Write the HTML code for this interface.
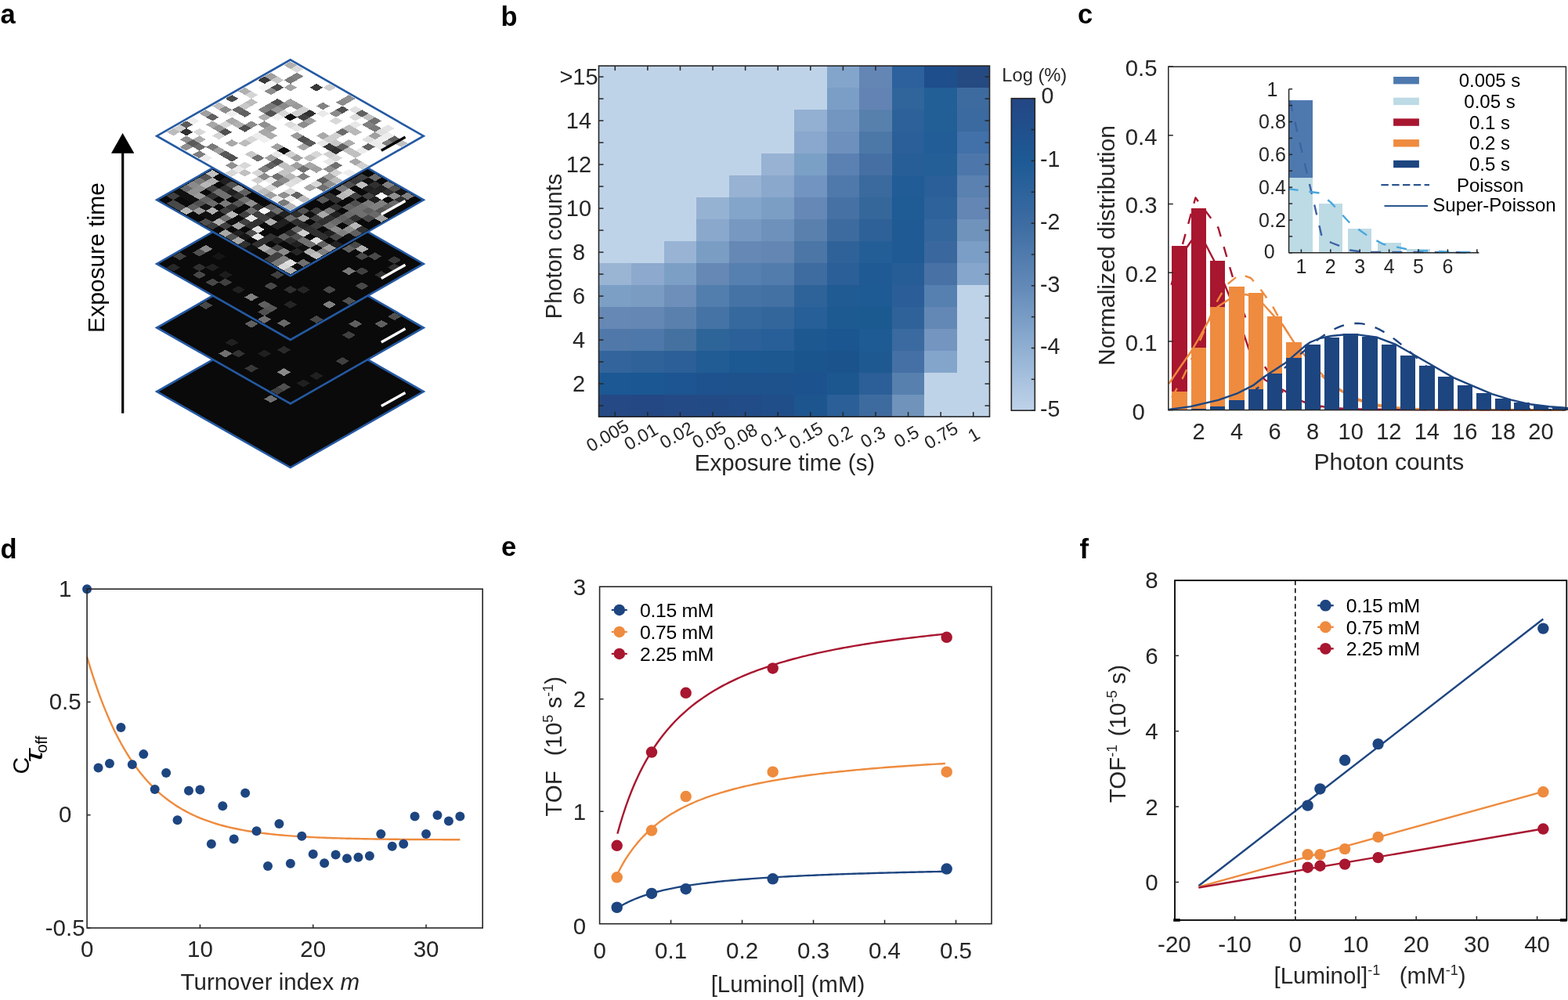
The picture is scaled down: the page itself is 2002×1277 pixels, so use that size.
<!DOCTYPE html>
<html><head><meta charset="utf-8"><title>Figure</title>
<style>
html,body{margin:0;padding:0;background:#fff;overflow:hidden;width:2002px;height:1277px;}
svg{display:block;}
text{font-family:'Liberation Sans', Arial, Helvetica, sans-serif;}
</style></head>
<body>
<svg width="2002" height="1277" viewBox="0 0 2002 1277">
<rect x="0" y="0" width="2002" height="1277" fill="#fff"/>
<text x="0.5" y="29.5" font-size="34.5" text-anchor="start" fill="#000" font-weight="bold">a</text>
<text x="639.5" y="32.5" font-size="34.5" text-anchor="start" fill="#000" font-weight="bold">b</text>
<text x="1376" y="29.5" font-size="34.5" text-anchor="start" fill="#000" font-weight="bold">c</text>
<text x="0.5" y="712.5" font-size="34.5" text-anchor="start" fill="#000" font-weight="bold">d</text>
<text x="640" y="710" font-size="34.5" text-anchor="start" fill="#000" font-weight="bold">e</text>
<text x="1378.5" y="712.5" font-size="34.5" text-anchor="start" fill="#000" font-weight="bold">f</text>
<polygon points="370.8,402.7 540.8,500.1 370.8,597.1 200.2,500.1" fill="#0a0a0a"/>
<g transform="matrix(8.3 4.74 -8.3 4.74 370.8 405)" shape-rendering="crispEdges">
<rect x="0" y="0" width="20" height="20" fill="#0a0a0a"/>
<rect x="9" y="12" width="1.04" height="1.04" fill="#707070"/>
</g>
<polygon points="370.8,402.7 540.8,500.1 370.8,597.1 200.2,500.1" fill="none" stroke="#2459a2" stroke-width="2.6" stroke-linejoin="miter"/>
<line x1="486.9" y1="518.6" x2="517.5" y2="501.4" stroke="#fff" stroke-width="3.4"/>
<polygon points="370.8,321.1 540.8,418.5 370.8,515.5 200.2,418.5" fill="#0a0a0a"/>
<g transform="matrix(8.3 4.74 -8.3 4.74 370.8 323.4)" shape-rendering="crispEdges">
<rect x="0" y="0" width="20" height="20" fill="#0a0a0a"/>
<rect x="16" y="0" width="1.04" height="1.04" fill="#505050"/>
<rect x="16" y="2" width="1.04" height="1.04" fill="#606060"/>
<rect x="14" y="4" width="1.04" height="1.04" fill="#606060"/>
<rect x="15" y="6" width="1.04" height="1.04" fill="#404040"/>
<rect x="18" y="10" width="1.04" height="1.04" fill="#404040"/>
<rect x="6" y="12" width="1.04" height="1.04" fill="#606060"/>
<rect x="0" y="13" width="1.04" height="1.04" fill="#484848"/>
<rect x="12" y="13" width="1.04" height="1.04" fill="#2a2a2a"/>
<rect x="18" y="14" width="1.04" height="1.04" fill="#202020"/>
<rect x="11" y="15" width="1.04" height="1.04" fill="#202020"/>
<rect x="7" y="16" width="1.04" height="1.04" fill="#202020"/>
<rect x="15" y="16" width="1.04" height="1.04" fill="#8a8a8a"/>
<rect x="18" y="16" width="1.04" height="1.04" fill="#202020"/>
<rect x="9" y="17" width="1.04" height="1.04" fill="#333333"/>
<rect x="8" y="18" width="1.04" height="1.04" fill="#707070"/>
<rect x="12" y="18" width="1.04" height="1.04" fill="#383838"/>
<rect x="17" y="18" width="1.04" height="1.04" fill="#505050"/>
<rect x="17" y="19" width="1.04" height="1.04" fill="#404040"/>
</g>
<polygon points="370.8,321.1 540.8,418.5 370.8,515.5 200.2,418.5" fill="none" stroke="#2459a2" stroke-width="2.6" stroke-linejoin="miter"/>
<line x1="486.9" y1="437" x2="517.5" y2="419.8" stroke="#fff" stroke-width="3.4"/>
<polygon points="370.8,239.5 540.8,336.9 370.8,433.9 200.2,336.9" fill="#0a0a0a"/>
<g transform="matrix(8.3 4.74 -8.3 4.74 370.8 241.8)" shape-rendering="crispEdges">
<rect x="0" y="0" width="20" height="20" fill="#0a0a0a"/>
<rect x="17" y="1" width="1.04" height="1.04" fill="#383838"/>
<rect x="12" y="2" width="1.04" height="1.04" fill="#484848"/>
<rect x="13" y="2" width="1.04" height="1.04" fill="#b0b0b0"/>
<rect x="15" y="2" width="1.04" height="1.04" fill="#4a4a4a"/>
<rect x="18" y="2" width="1.04" height="1.04" fill="#303030"/>
<rect x="12" y="3" width="1.04" height="1.04" fill="#606060"/>
<rect x="14" y="3" width="1.04" height="1.04" fill="#484848"/>
<rect x="18" y="4" width="1.04" height="1.04" fill="#303030"/>
<rect x="16" y="5" width="1.04" height="1.04" fill="#404040"/>
<rect x="15" y="6" width="1.04" height="1.04" fill="#7a7a7a"/>
<rect x="18" y="7" width="1.04" height="1.04" fill="#484848"/>
<rect x="16" y="10" width="1.04" height="1.04" fill="#484848"/>
<rect x="19" y="10" width="1.04" height="1.04" fill="#505050"/>
<rect x="10" y="12" width="1.04" height="1.04" fill="#404040"/>
<rect x="14" y="12" width="1.04" height="1.04" fill="#252525"/>
<rect x="18" y="12" width="1.04" height="1.04" fill="#808080"/>
<rect x="13" y="13" width="1.04" height="1.04" fill="#303030"/>
<rect x="1" y="14" width="1.04" height="1.04" fill="#8a8a8a"/>
<rect x="3" y="14" width="1.04" height="1.04" fill="#151515"/>
<rect x="11" y="14" width="1.04" height="1.04" fill="#484848"/>
<rect x="1" y="15" width="1.04" height="1.04" fill="#505050"/>
<rect x="15" y="15" width="1.04" height="1.04" fill="#252525"/>
<rect x="19" y="15" width="1.04" height="1.04" fill="#484848"/>
<rect x="4" y="16" width="1.04" height="1.04" fill="#202020"/>
<rect x="6" y="16" width="1.04" height="1.04" fill="#1c1c1c"/>
<rect x="0" y="17" width="1.04" height="1.04" fill="#404040"/>
<rect x="3" y="17" width="1.04" height="1.04" fill="#303030"/>
<rect x="7" y="17" width="1.04" height="1.04" fill="#404040"/>
<rect x="9" y="17" width="1.04" height="1.04" fill="#202020"/>
<rect x="11" y="17" width="1.04" height="1.04" fill="#808080"/>
<rect x="13" y="17" width="1.04" height="1.04" fill="#606060"/>
<rect x="14" y="17" width="1.04" height="1.04" fill="#585858"/>
<rect x="4" y="18" width="1.04" height="1.04" fill="#484848"/>
<rect x="6" y="18" width="1.04" height="1.04" fill="#484848"/>
<rect x="14" y="18" width="1.04" height="1.04" fill="#505050"/>
<rect x="17" y="18" width="1.04" height="1.04" fill="#6a6a6a"/>
<rect x="1" y="19" width="1.04" height="1.04" fill="#282828"/>
<rect x="15" y="19" width="1.04" height="1.04" fill="#707070"/>
</g>
<polygon points="370.8,239.5 540.8,336.9 370.8,433.9 200.2,336.9" fill="none" stroke="#2459a2" stroke-width="2.6" stroke-linejoin="miter"/>
<line x1="486.9" y1="355.4" x2="517.5" y2="338.2" stroke="#fff" stroke-width="3.4"/>
<polygon points="370.8,157.9 540.8,255.3 370.8,352.3 200.2,255.3" fill="#0a0a0a"/>
<g transform="matrix(8.3 4.74 -8.3 4.74 370.8 160.2)" shape-rendering="crispEdges">
<rect x="0" y="0" width="20" height="20" fill="#0a0a0a"/>
<rect x="13" y="0" width="1.04" height="1.04" fill="#6a6a6a"/>
<rect x="15" y="0" width="1.04" height="1.04" fill="#808080"/>
<rect x="16" y="0" width="1.04" height="1.04" fill="#505050"/>
<rect x="17" y="0" width="1.04" height="1.04" fill="#151515"/>
<rect x="18" y="0" width="1.04" height="1.04" fill="#808080"/>
<rect x="12" y="1" width="1.04" height="1.04" fill="#404040"/>
<rect x="13" y="1" width="1.04" height="1.04" fill="#101010"/>
<rect x="14" y="1" width="1.04" height="1.04" fill="#303030"/>
<rect x="15" y="1" width="1.04" height="1.04" fill="#202020"/>
<rect x="16" y="1" width="1.04" height="1.04" fill="#303030"/>
<rect x="17" y="1" width="1.04" height="1.04" fill="#909090"/>
<rect x="18" y="1" width="1.04" height="1.04" fill="#303030"/>
<rect x="12" y="2" width="1.04" height="1.04" fill="#3a3a3a"/>
<rect x="13" y="2" width="1.04" height="1.04" fill="#c0c0c0"/>
<rect x="14" y="2" width="1.04" height="1.04" fill="#202020"/>
<rect x="15" y="2" width="1.04" height="1.04" fill="#252525"/>
<rect x="16" y="2" width="1.04" height="1.04" fill="#f8f8f8"/>
<rect x="18" y="2" width="1.04" height="1.04" fill="#6a6a6a"/>
<rect x="12" y="3" width="1.04" height="1.04" fill="#505050"/>
<rect x="15" y="3" width="1.04" height="1.04" fill="#404040"/>
<rect x="16" y="3" width="1.04" height="1.04" fill="#202020"/>
<rect x="17" y="3" width="1.04" height="1.04" fill="#808080"/>
<rect x="18" y="3" width="1.04" height="1.04" fill="#606060"/>
<rect x="12" y="4" width="1.04" height="1.04" fill="#7a7a7a"/>
<rect x="13" y="4" width="1.04" height="1.04" fill="#c0c0c0"/>
<rect x="14" y="4" width="1.04" height="1.04" fill="#404040"/>
<rect x="16" y="4" width="1.04" height="1.04" fill="#7a7a7a"/>
<rect x="17" y="4" width="1.04" height="1.04" fill="#808080"/>
<rect x="18" y="4" width="1.04" height="1.04" fill="#555555"/>
<rect x="13" y="5" width="1.04" height="1.04" fill="#b8b8b8"/>
<rect x="15" y="5" width="1.04" height="1.04" fill="#505050"/>
<rect x="16" y="5" width="1.04" height="1.04" fill="#707070"/>
<rect x="17" y="5" width="1.04" height="1.04" fill="#606060"/>
<rect x="18" y="5" width="1.04" height="1.04" fill="#6a6a6a"/>
<rect x="19" y="5" width="1.04" height="1.04" fill="#a0a0a0"/>
<rect x="12" y="6" width="1.04" height="1.04" fill="#303030"/>
<rect x="13" y="6" width="1.04" height="1.04" fill="#303030"/>
<rect x="15" y="6" width="1.04" height="1.04" fill="#606060"/>
<rect x="16" y="6" width="1.04" height="1.04" fill="#707070"/>
<rect x="17" y="6" width="1.04" height="1.04" fill="#707070"/>
<rect x="18" y="6" width="1.04" height="1.04" fill="#484848"/>
<rect x="12" y="7" width="1.04" height="1.04" fill="#5a5a5a"/>
<rect x="14" y="7" width="1.04" height="1.04" fill="#303030"/>
<rect x="16" y="7" width="1.04" height="1.04" fill="#6a6a6a"/>
<rect x="17" y="7" width="1.04" height="1.04" fill="#303030"/>
<rect x="14" y="8" width="1.04" height="1.04" fill="#7a7a7a"/>
<rect x="15" y="8" width="1.04" height="1.04" fill="#202020"/>
<rect x="16" y="8" width="1.04" height="1.04" fill="#606060"/>
<rect x="17" y="8" width="1.04" height="1.04" fill="#505050"/>
<rect x="18" y="8" width="1.04" height="1.04" fill="#b8b8b8"/>
<rect x="19" y="8" width="1.04" height="1.04" fill="#303030"/>
<rect x="13" y="9" width="1.04" height="1.04" fill="#404040"/>
<rect x="14" y="9" width="1.04" height="1.04" fill="#a8a8a8"/>
<rect x="15" y="9" width="1.04" height="1.04" fill="#303030"/>
<rect x="16" y="9" width="1.04" height="1.04" fill="#6a6a6a"/>
<rect x="18" y="9" width="1.04" height="1.04" fill="#909090"/>
<rect x="19" y="9" width="1.04" height="1.04" fill="#606060"/>
<rect x="12" y="10" width="1.04" height="1.04" fill="#505050"/>
<rect x="13" y="10" width="1.04" height="1.04" fill="#101010"/>
<rect x="14" y="10" width="1.04" height="1.04" fill="#404040"/>
<rect x="15" y="10" width="1.04" height="1.04" fill="#303030"/>
<rect x="16" y="10" width="1.04" height="1.04" fill="#747474"/>
<rect x="17" y="10" width="1.04" height="1.04" fill="#8a8a8a"/>
<rect x="18" y="10" width="1.04" height="1.04" fill="#808080"/>
<rect x="19" y="10" width="1.04" height="1.04" fill="#101010"/>
<rect x="11" y="11" width="1.04" height="1.04" fill="#202020"/>
<rect x="12" y="11" width="1.04" height="1.04" fill="#303030"/>
<rect x="13" y="11" width="1.04" height="1.04" fill="#a0a0a0"/>
<rect x="15" y="11" width="1.04" height="1.04" fill="#3c3c3c"/>
<rect x="17" y="11" width="1.04" height="1.04" fill="#202020"/>
<rect x="18" y="11" width="1.04" height="1.04" fill="#484848"/>
<rect x="0" y="12" width="1.04" height="1.04" fill="#c0c0c0"/>
<rect x="2" y="12" width="1.04" height="1.04" fill="#202020"/>
<rect x="3" y="12" width="1.04" height="1.04" fill="#505050"/>
<rect x="4" y="12" width="1.04" height="1.04" fill="#b0b0b0"/>
<rect x="5" y="12" width="1.04" height="1.04" fill="#606060"/>
<rect x="9" y="12" width="1.04" height="1.04" fill="#606060"/>
<rect x="10" y="12" width="1.04" height="1.04" fill="#707070"/>
<rect x="11" y="12" width="1.04" height="1.04" fill="#202020"/>
<rect x="12" y="12" width="1.04" height="1.04" fill="#6a6a6a"/>
<rect x="13" y="12" width="1.04" height="1.04" fill="#303030"/>
<rect x="14" y="12" width="1.04" height="1.04" fill="#282828"/>
<rect x="15" y="12" width="1.04" height="1.04" fill="#303030"/>
<rect x="16" y="12" width="1.04" height="1.04" fill="#303030"/>
<rect x="17" y="12" width="1.04" height="1.04" fill="#303030"/>
<rect x="19" y="12" width="1.04" height="1.04" fill="#202020"/>
<rect x="0" y="13" width="1.04" height="1.04" fill="#555555"/>
<rect x="1" y="13" width="1.04" height="1.04" fill="#b0b0b0"/>
<rect x="3" y="13" width="1.04" height="1.04" fill="#303030"/>
<rect x="4" y="13" width="1.04" height="1.04" fill="#202020"/>
<rect x="5" y="13" width="1.04" height="1.04" fill="#303030"/>
<rect x="6" y="13" width="1.04" height="1.04" fill="#707070"/>
<rect x="7" y="13" width="1.04" height="1.04" fill="#909090"/>
<rect x="8" y="13" width="1.04" height="1.04" fill="#303030"/>
<rect x="9" y="13" width="1.04" height="1.04" fill="#f8f8f8"/>
<rect x="10" y="13" width="1.04" height="1.04" fill="#303030"/>
<rect x="11" y="13" width="1.04" height="1.04" fill="#101010"/>
<rect x="12" y="13" width="1.04" height="1.04" fill="#202020"/>
<rect x="14" y="13" width="1.04" height="1.04" fill="#6a6a6a"/>
<rect x="15" y="13" width="1.04" height="1.04" fill="#d0d0d0"/>
<rect x="17" y="13" width="1.04" height="1.04" fill="#e0e0e0"/>
<rect x="18" y="13" width="1.04" height="1.04" fill="#606060"/>
<rect x="19" y="13" width="1.04" height="1.04" fill="#a0a0a0"/>
<rect x="0" y="14" width="1.04" height="1.04" fill="#7a7a7a"/>
<rect x="1" y="14" width="1.04" height="1.04" fill="#b8b8b8"/>
<rect x="2" y="14" width="1.04" height="1.04" fill="#404040"/>
<rect x="3" y="14" width="1.04" height="1.04" fill="#707070"/>
<rect x="4" y="14" width="1.04" height="1.04" fill="#707070"/>
<rect x="6" y="14" width="1.04" height="1.04" fill="#555555"/>
<rect x="8" y="14" width="1.04" height="1.04" fill="#707070"/>
<rect x="9" y="14" width="1.04" height="1.04" fill="#404040"/>
<rect x="10" y="14" width="1.04" height="1.04" fill="#404040"/>
<rect x="11" y="14" width="1.04" height="1.04" fill="#b0b0b0"/>
<rect x="12" y="14" width="1.04" height="1.04" fill="#202020"/>
<rect x="14" y="14" width="1.04" height="1.04" fill="#303030"/>
<rect x="15" y="14" width="1.04" height="1.04" fill="#505050"/>
<rect x="16" y="14" width="1.04" height="1.04" fill="#707070"/>
<rect x="17" y="14" width="1.04" height="1.04" fill="#707070"/>
<rect x="19" y="14" width="1.04" height="1.04" fill="#808080"/>
<rect x="0" y="15" width="1.04" height="1.04" fill="#8a8a8a"/>
<rect x="1" y="15" width="1.04" height="1.04" fill="#909090"/>
<rect x="3" y="15" width="1.04" height="1.04" fill="#303030"/>
<rect x="5" y="15" width="1.04" height="1.04" fill="#7a7a7a"/>
<rect x="6" y="15" width="1.04" height="1.04" fill="#303030"/>
<rect x="8" y="15" width="1.04" height="1.04" fill="#404040"/>
<rect x="9" y="15" width="1.04" height="1.04" fill="#e8e8e8"/>
<rect x="10" y="15" width="1.04" height="1.04" fill="#303030"/>
<rect x="14" y="15" width="1.04" height="1.04" fill="#606060"/>
<rect x="15" y="15" width="1.04" height="1.04" fill="#303030"/>
<rect x="16" y="15" width="1.04" height="1.04" fill="#202020"/>
<rect x="17" y="15" width="1.04" height="1.04" fill="#101010"/>
<rect x="18" y="15" width="1.04" height="1.04" fill="#b0b0b0"/>
<rect x="19" y="15" width="1.04" height="1.04" fill="#c0c0c0"/>
<rect x="0" y="16" width="1.04" height="1.04" fill="#6a6a6a"/>
<rect x="1" y="16" width="1.04" height="1.04" fill="#909090"/>
<rect x="2" y="16" width="1.04" height="1.04" fill="#9a9a9a"/>
<rect x="3" y="16" width="1.04" height="1.04" fill="#606060"/>
<rect x="4" y="16" width="1.04" height="1.04" fill="#6a6a6a"/>
<rect x="6" y="16" width="1.04" height="1.04" fill="#404040"/>
<rect x="7" y="16" width="1.04" height="1.04" fill="#b8b8b8"/>
<rect x="9" y="16" width="1.04" height="1.04" fill="#404040"/>
<rect x="10" y="16" width="1.04" height="1.04" fill="#303030"/>
<rect x="11" y="16" width="1.04" height="1.04" fill="#e0e0e0"/>
<rect x="13" y="16" width="1.04" height="1.04" fill="#303030"/>
<rect x="14" y="16" width="1.04" height="1.04" fill="#202020"/>
<rect x="17" y="16" width="1.04" height="1.04" fill="#252525"/>
<rect x="0" y="17" width="1.04" height="1.04" fill="#101010"/>
<rect x="1" y="17" width="1.04" height="1.04" fill="#101010"/>
<rect x="2" y="17" width="1.04" height="1.04" fill="#101010"/>
<rect x="3" y="17" width="1.04" height="1.04" fill="#505050"/>
<rect x="4" y="17" width="1.04" height="1.04" fill="#151515"/>
<rect x="5" y="17" width="1.04" height="1.04" fill="#b0b0b0"/>
<rect x="6" y="17" width="1.04" height="1.04" fill="#101010"/>
<rect x="7" y="17" width="1.04" height="1.04" fill="#707070"/>
<rect x="8" y="17" width="1.04" height="1.04" fill="#101010"/>
<rect x="9" y="17" width="1.04" height="1.04" fill="#a5a5a5"/>
<rect x="11" y="17" width="1.04" height="1.04" fill="#505050"/>
<rect x="12" y="17" width="1.04" height="1.04" fill="#e8e8e8"/>
<rect x="13" y="17" width="1.04" height="1.04" fill="#303030"/>
<rect x="15" y="17" width="1.04" height="1.04" fill="#404040"/>
<rect x="16" y="17" width="1.04" height="1.04" fill="#8a8a8a"/>
<rect x="19" y="17" width="1.04" height="1.04" fill="#707070"/>
<rect x="0" y="18" width="1.04" height="1.04" fill="#404040"/>
<rect x="3" y="18" width="1.04" height="1.04" fill="#606060"/>
<rect x="4" y="18" width="1.04" height="1.04" fill="#9a9a9a"/>
<rect x="5" y="18" width="1.04" height="1.04" fill="#101010"/>
<rect x="6" y="18" width="1.04" height="1.04" fill="#101010"/>
<rect x="7" y="18" width="1.04" height="1.04" fill="#b0b0b0"/>
<rect x="8" y="18" width="1.04" height="1.04" fill="#404040"/>
<rect x="10" y="18" width="1.04" height="1.04" fill="#202020"/>
<rect x="11" y="18" width="1.04" height="1.04" fill="#151515"/>
<rect x="13" y="18" width="1.04" height="1.04" fill="#303030"/>
<rect x="14" y="18" width="1.04" height="1.04" fill="#b0b0b0"/>
<rect x="15" y="18" width="1.04" height="1.04" fill="#8a8a8a"/>
<rect x="16" y="18" width="1.04" height="1.04" fill="#404040"/>
<rect x="17" y="18" width="1.04" height="1.04" fill="#808080"/>
<rect x="18" y="18" width="1.04" height="1.04" fill="#e0e0e0"/>
<rect x="1" y="19" width="1.04" height="1.04" fill="#484848"/>
<rect x="2" y="19" width="1.04" height="1.04" fill="#4a4a4a"/>
<rect x="3" y="19" width="1.04" height="1.04" fill="#b8b8b8"/>
<rect x="6" y="19" width="1.04" height="1.04" fill="#505050"/>
<rect x="7" y="19" width="1.04" height="1.04" fill="#3c3c3c"/>
<rect x="9" y="19" width="1.04" height="1.04" fill="#a8a8a8"/>
<rect x="10" y="19" width="1.04" height="1.04" fill="#505050"/>
<rect x="11" y="19" width="1.04" height="1.04" fill="#a8a8a8"/>
<rect x="12" y="19" width="1.04" height="1.04" fill="#303030"/>
<rect x="13" y="19" width="1.04" height="1.04" fill="#101010"/>
<rect x="16" y="19" width="1.04" height="1.04" fill="#404040"/>
<rect x="17" y="19" width="1.04" height="1.04" fill="#7a7a7a"/>
<rect x="18" y="19" width="1.04" height="1.04" fill="#d8d8d8"/>
<rect x="19" y="19" width="1.04" height="1.04" fill="#b0b0b0"/>
</g>
<polygon points="370.8,157.9 540.8,255.3 370.8,352.3 200.2,255.3" fill="none" stroke="#2459a2" stroke-width="2.6" stroke-linejoin="miter"/>
<line x1="486.9" y1="273.8" x2="517.5" y2="256.6" stroke="#fff" stroke-width="3.4"/>
<polygon points="370.8,76.3 540.8,173.7 370.8,270.7 200.2,173.7" fill="#fdfdfd"/>
<g transform="matrix(8.3 4.74 -8.3 4.74 370.8 78.6)" shape-rendering="crispEdges">
<rect x="0" y="0" width="20" height="20" fill="#fdfdfd"/>
<rect x="0" y="0" width="1.04" height="1.04" fill="#b0b0b0"/>
<rect x="1" y="0" width="1.04" height="1.04" fill="#dcdcdc"/>
<rect x="2" y="0" width="1.04" height="1.04" fill="#ffffff"/>
<rect x="3" y="0" width="1.04" height="1.04" fill="#ffffff"/>
<rect x="4" y="0" width="1.04" height="1.04" fill="#ffffff"/>
<rect x="5" y="0" width="1.04" height="1.04" fill="#ffffff"/>
<rect x="6" y="0" width="1.04" height="1.04" fill="#d0d0d0"/>
<rect x="7" y="0" width="1.04" height="1.04" fill="#ffffff"/>
<rect x="8" y="0" width="1.04" height="1.04" fill="#ffffff"/>
<rect x="9" y="0" width="1.04" height="1.04" fill="#909090"/>
<rect x="10" y="0" width="1.04" height="1.04" fill="#ffffff"/>
<rect x="11" y="0" width="1.04" height="1.04" fill="#ffffff"/>
<rect x="12" y="0" width="1.04" height="1.04" fill="#ffffff"/>
<rect x="13" y="0" width="1.04" height="1.04" fill="#ffffff"/>
<rect x="14" y="0" width="1.04" height="1.04" fill="#ffffff"/>
<rect x="15" y="0" width="1.04" height="1.04" fill="#ffffff"/>
<rect x="16" y="0" width="1.04" height="1.04" fill="#ffffff"/>
<rect x="17" y="0" width="1.04" height="1.04" fill="#ffffff"/>
<rect x="18" y="0" width="1.04" height="1.04" fill="#ffffff"/>
<rect x="19" y="0" width="1.04" height="1.04" fill="#ffffff"/>
<rect x="0" y="1" width="1.04" height="1.04" fill="#ffffff"/>
<rect x="1" y="1" width="1.04" height="1.04" fill="#ffffff"/>
<rect x="2" y="1" width="1.04" height="1.04" fill="#808080"/>
<rect x="3" y="1" width="1.04" height="1.04" fill="#ffffff"/>
<rect x="4" y="1" width="1.04" height="1.04" fill="#ffffff"/>
<rect x="5" y="1" width="1.04" height="1.04" fill="#383838"/>
<rect x="6" y="1" width="1.04" height="1.04" fill="#ffffff"/>
<rect x="7" y="1" width="1.04" height="1.04" fill="#ffffff"/>
<rect x="8" y="1" width="1.04" height="1.04" fill="#ffffff"/>
<rect x="9" y="1" width="1.04" height="1.04" fill="#8c8c8c"/>
<rect x="10" y="1" width="1.04" height="1.04" fill="#ffffff"/>
<rect x="11" y="1" width="1.04" height="1.04" fill="#e0e0e0"/>
<rect x="12" y="1" width="1.04" height="1.04" fill="#606060"/>
<rect x="13" y="1" width="1.04" height="1.04" fill="#c0c0c0"/>
<rect x="14" y="1" width="1.04" height="1.04" fill="#707070"/>
<rect x="15" y="1" width="1.04" height="1.04" fill="#ffffff"/>
<rect x="16" y="1" width="1.04" height="1.04" fill="#e4e4e4"/>
<rect x="17" y="1" width="1.04" height="1.04" fill="#ffffff"/>
<rect x="18" y="1" width="1.04" height="1.04" fill="#ffffff"/>
<rect x="19" y="1" width="1.04" height="1.04" fill="#ffffff"/>
<rect x="0" y="2" width="1.04" height="1.04" fill="#ffffff"/>
<rect x="1" y="2" width="1.04" height="1.04" fill="#ffffff"/>
<rect x="2" y="2" width="1.04" height="1.04" fill="#7a7a7a"/>
<rect x="3" y="2" width="1.04" height="1.04" fill="#ffffff"/>
<rect x="4" y="2" width="1.04" height="1.04" fill="#ffffff"/>
<rect x="5" y="2" width="1.04" height="1.04" fill="#ffffff"/>
<rect x="6" y="2" width="1.04" height="1.04" fill="#ffffff"/>
<rect x="7" y="2" width="1.04" height="1.04" fill="#ffffff"/>
<rect x="8" y="2" width="1.04" height="1.04" fill="#ffffff"/>
<rect x="9" y="2" width="1.04" height="1.04" fill="#ffffff"/>
<rect x="10" y="2" width="1.04" height="1.04" fill="#505050"/>
<rect x="11" y="2" width="1.04" height="1.04" fill="#ffffff"/>
<rect x="12" y="2" width="1.04" height="1.04" fill="#dcdcdc"/>
<rect x="13" y="2" width="1.04" height="1.04" fill="#ffffff"/>
<rect x="14" y="2" width="1.04" height="1.04" fill="#808080"/>
<rect x="15" y="2" width="1.04" height="1.04" fill="#7a7a7a"/>
<rect x="16" y="2" width="1.04" height="1.04" fill="#e0e0e0"/>
<rect x="17" y="2" width="1.04" height="1.04" fill="#eeeeee"/>
<rect x="18" y="2" width="1.04" height="1.04" fill="#606060"/>
<rect x="19" y="2" width="1.04" height="1.04" fill="#c0c0c0"/>
<rect x="0" y="3" width="1.04" height="1.04" fill="#a0a0a0"/>
<rect x="1" y="3" width="1.04" height="1.04" fill="#c8c8c8"/>
<rect x="2" y="3" width="1.04" height="1.04" fill="#ffffff"/>
<rect x="3" y="3" width="1.04" height="1.04" fill="#a4a4a4"/>
<rect x="4" y="3" width="1.04" height="1.04" fill="#ffffff"/>
<rect x="5" y="3" width="1.04" height="1.04" fill="#ffffff"/>
<rect x="6" y="3" width="1.04" height="1.04" fill="#ffffff"/>
<rect x="7" y="3" width="1.04" height="1.04" fill="#ffffff"/>
<rect x="8" y="3" width="1.04" height="1.04" fill="#828282"/>
<rect x="9" y="3" width="1.04" height="1.04" fill="#ffffff"/>
<rect x="10" y="3" width="1.04" height="1.04" fill="#8c8c8c"/>
<rect x="11" y="3" width="1.04" height="1.04" fill="#ffffff"/>
<rect x="12" y="3" width="1.04" height="1.04" fill="#ffffff"/>
<rect x="13" y="3" width="1.04" height="1.04" fill="#e8e8e8"/>
<rect x="14" y="3" width="1.04" height="1.04" fill="#ffffff"/>
<rect x="15" y="3" width="1.04" height="1.04" fill="#ffffff"/>
<rect x="16" y="3" width="1.04" height="1.04" fill="#a0a0a0"/>
<rect x="17" y="3" width="1.04" height="1.04" fill="#f0f0f0"/>
<rect x="18" y="3" width="1.04" height="1.04" fill="#808080"/>
<rect x="19" y="3" width="1.04" height="1.04" fill="#ffffff"/>
<rect x="0" y="4" width="1.04" height="1.04" fill="#383838"/>
<rect x="1" y="4" width="1.04" height="1.04" fill="#f5f5f5"/>
<rect x="2" y="4" width="1.04" height="1.04" fill="#4a4a4a"/>
<rect x="3" y="4" width="1.04" height="1.04" fill="#ffffff"/>
<rect x="4" y="4" width="1.04" height="1.04" fill="#ffffff"/>
<rect x="5" y="4" width="1.04" height="1.04" fill="#ffffff"/>
<rect x="6" y="4" width="1.04" height="1.04" fill="#ffffff"/>
<rect x="7" y="4" width="1.04" height="1.04" fill="#ffffff"/>
<rect x="8" y="4" width="1.04" height="1.04" fill="#ffffff"/>
<rect x="9" y="4" width="1.04" height="1.04" fill="#eaeaea"/>
<rect x="10" y="4" width="1.04" height="1.04" fill="#ffffff"/>
<rect x="11" y="4" width="1.04" height="1.04" fill="#d8d8d8"/>
<rect x="12" y="4" width="1.04" height="1.04" fill="#ffffff"/>
<rect x="13" y="4" width="1.04" height="1.04" fill="#bcbcbc"/>
<rect x="14" y="4" width="1.04" height="1.04" fill="#b8b8b8"/>
<rect x="15" y="4" width="1.04" height="1.04" fill="#ffffff"/>
<rect x="16" y="4" width="1.04" height="1.04" fill="#e0e0e0"/>
<rect x="17" y="4" width="1.04" height="1.04" fill="#ececec"/>
<rect x="18" y="4" width="1.04" height="1.04" fill="#ececec"/>
<rect x="19" y="4" width="1.04" height="1.04" fill="#ffffff"/>
<rect x="0" y="5" width="1.04" height="1.04" fill="#ffffff"/>
<rect x="1" y="5" width="1.04" height="1.04" fill="#f4f4f4"/>
<rect x="2" y="5" width="1.04" height="1.04" fill="#8c8c8c"/>
<rect x="3" y="5" width="1.04" height="1.04" fill="#ffffff"/>
<rect x="4" y="5" width="1.04" height="1.04" fill="#ffffff"/>
<rect x="5" y="5" width="1.04" height="1.04" fill="#a0a0a0"/>
<rect x="6" y="5" width="1.04" height="1.04" fill="#9a9a9a"/>
<rect x="7" y="5" width="1.04" height="1.04" fill="#d0d0d0"/>
<rect x="8" y="5" width="1.04" height="1.04" fill="#303030"/>
<rect x="9" y="5" width="1.04" height="1.04" fill="#ffffff"/>
<rect x="10" y="5" width="1.04" height="1.04" fill="#ffffff"/>
<rect x="11" y="5" width="1.04" height="1.04" fill="#ffffff"/>
<rect x="12" y="5" width="1.04" height="1.04" fill="#ffffff"/>
<rect x="13" y="5" width="1.04" height="1.04" fill="#6a6a6a"/>
<rect x="14" y="5" width="1.04" height="1.04" fill="#ffffff"/>
<rect x="15" y="5" width="1.04" height="1.04" fill="#ffffff"/>
<rect x="16" y="5" width="1.04" height="1.04" fill="#ffffff"/>
<rect x="17" y="5" width="1.04" height="1.04" fill="#606060"/>
<rect x="18" y="5" width="1.04" height="1.04" fill="#ffffff"/>
<rect x="19" y="5" width="1.04" height="1.04" fill="#ffffff"/>
<rect x="0" y="6" width="1.04" height="1.04" fill="#ffffff"/>
<rect x="1" y="6" width="1.04" height="1.04" fill="#ffffff"/>
<rect x="2" y="6" width="1.04" height="1.04" fill="#ffffff"/>
<rect x="3" y="6" width="1.04" height="1.04" fill="#ffffff"/>
<rect x="4" y="6" width="1.04" height="1.04" fill="#4e4e4e"/>
<rect x="5" y="6" width="1.04" height="1.04" fill="#8a8a8a"/>
<rect x="6" y="6" width="1.04" height="1.04" fill="#ffffff"/>
<rect x="7" y="6" width="1.04" height="1.04" fill="#d0d0d0"/>
<rect x="8" y="6" width="1.04" height="1.04" fill="#404040"/>
<rect x="9" y="6" width="1.04" height="1.04" fill="#a0a0a0"/>
<rect x="10" y="6" width="1.04" height="1.04" fill="#ffffff"/>
<rect x="11" y="6" width="1.04" height="1.04" fill="#ffffff"/>
<rect x="12" y="6" width="1.04" height="1.04" fill="#ffffff"/>
<rect x="13" y="6" width="1.04" height="1.04" fill="#d0d0d0"/>
<rect x="14" y="6" width="1.04" height="1.04" fill="#ffffff"/>
<rect x="15" y="6" width="1.04" height="1.04" fill="#acacac"/>
<rect x="16" y="6" width="1.04" height="1.04" fill="#ffffff"/>
<rect x="17" y="6" width="1.04" height="1.04" fill="#ececec"/>
<rect x="18" y="6" width="1.04" height="1.04" fill="#ffffff"/>
<rect x="19" y="6" width="1.04" height="1.04" fill="#ffffff"/>
<rect x="0" y="7" width="1.04" height="1.04" fill="#b0b0b0"/>
<rect x="1" y="7" width="1.04" height="1.04" fill="#d4d4d4"/>
<rect x="2" y="7" width="1.04" height="1.04" fill="#ffffff"/>
<rect x="3" y="7" width="1.04" height="1.04" fill="#ffffff"/>
<rect x="4" y="7" width="1.04" height="1.04" fill="#7a7a7a"/>
<rect x="5" y="7" width="1.04" height="1.04" fill="#9a9a9a"/>
<rect x="6" y="7" width="1.04" height="1.04" fill="#d8d8d8"/>
<rect x="7" y="7" width="1.04" height="1.04" fill="#101010"/>
<rect x="8" y="7" width="1.04" height="1.04" fill="#ffffff"/>
<rect x="9" y="7" width="1.04" height="1.04" fill="#8c8c8c"/>
<rect x="10" y="7" width="1.04" height="1.04" fill="#ffffff"/>
<rect x="11" y="7" width="1.04" height="1.04" fill="#ffffff"/>
<rect x="12" y="7" width="1.04" height="1.04" fill="#a8a8a8"/>
<rect x="13" y="7" width="1.04" height="1.04" fill="#d0d0d0"/>
<rect x="14" y="7" width="1.04" height="1.04" fill="#c8c8c8"/>
<rect x="15" y="7" width="1.04" height="1.04" fill="#606060"/>
<rect x="16" y="7" width="1.04" height="1.04" fill="#c0c0c0"/>
<rect x="17" y="7" width="1.04" height="1.04" fill="#c0c0c0"/>
<rect x="18" y="7" width="1.04" height="1.04" fill="#ffffff"/>
<rect x="19" y="7" width="1.04" height="1.04" fill="#ffffff"/>
<rect x="0" y="8" width="1.04" height="1.04" fill="#ffffff"/>
<rect x="1" y="8" width="1.04" height="1.04" fill="#ffffff"/>
<rect x="2" y="8" width="1.04" height="1.04" fill="#bcbcbc"/>
<rect x="3" y="8" width="1.04" height="1.04" fill="#ffffff"/>
<rect x="4" y="8" width="1.04" height="1.04" fill="#808080"/>
<rect x="5" y="8" width="1.04" height="1.04" fill="#505050"/>
<rect x="6" y="8" width="1.04" height="1.04" fill="#f0f0f0"/>
<rect x="7" y="8" width="1.04" height="1.04" fill="#ffffff"/>
<rect x="8" y="8" width="1.04" height="1.04" fill="#dcdcdc"/>
<rect x="9" y="8" width="1.04" height="1.04" fill="#e8e8e8"/>
<rect x="10" y="8" width="1.04" height="1.04" fill="#ffffff"/>
<rect x="11" y="8" width="1.04" height="1.04" fill="#ffffff"/>
<rect x="12" y="8" width="1.04" height="1.04" fill="#ffffff"/>
<rect x="13" y="8" width="1.04" height="1.04" fill="#e8e8e8"/>
<rect x="14" y="8" width="1.04" height="1.04" fill="#383838"/>
<rect x="15" y="8" width="1.04" height="1.04" fill="#303030"/>
<rect x="16" y="8" width="1.04" height="1.04" fill="#ffffff"/>
<rect x="17" y="8" width="1.04" height="1.04" fill="#ffffff"/>
<rect x="18" y="8" width="1.04" height="1.04" fill="#a8a8a8"/>
<rect x="19" y="8" width="1.04" height="1.04" fill="#d0d0d0"/>
<rect x="0" y="9" width="1.04" height="1.04" fill="#4a4a4a"/>
<rect x="1" y="9" width="1.04" height="1.04" fill="#ffffff"/>
<rect x="2" y="9" width="1.04" height="1.04" fill="#c8c8c8"/>
<rect x="3" y="9" width="1.04" height="1.04" fill="#ffffff"/>
<rect x="4" y="9" width="1.04" height="1.04" fill="#ffffff"/>
<rect x="5" y="9" width="1.04" height="1.04" fill="#b0b0b0"/>
<rect x="6" y="9" width="1.04" height="1.04" fill="#ffffff"/>
<rect x="7" y="9" width="1.04" height="1.04" fill="#ffffff"/>
<rect x="8" y="9" width="1.04" height="1.04" fill="#ffffff"/>
<rect x="9" y="9" width="1.04" height="1.04" fill="#ffffff"/>
<rect x="10" y="9" width="1.04" height="1.04" fill="#9a9a9a"/>
<rect x="11" y="9" width="1.04" height="1.04" fill="#505050"/>
<rect x="12" y="9" width="1.04" height="1.04" fill="#5a5a5a"/>
<rect x="13" y="9" width="1.04" height="1.04" fill="#ffffff"/>
<rect x="14" y="9" width="1.04" height="1.04" fill="#ffffff"/>
<rect x="15" y="9" width="1.04" height="1.04" fill="#d0d0d0"/>
<rect x="16" y="9" width="1.04" height="1.04" fill="#d8d8d8"/>
<rect x="17" y="9" width="1.04" height="1.04" fill="#ffffff"/>
<rect x="18" y="9" width="1.04" height="1.04" fill="#ffffff"/>
<rect x="19" y="9" width="1.04" height="1.04" fill="#ffffff"/>
<rect x="0" y="10" width="1.04" height="1.04" fill="#ffffff"/>
<rect x="1" y="10" width="1.04" height="1.04" fill="#ffffff"/>
<rect x="2" y="10" width="1.04" height="1.04" fill="#686868"/>
<rect x="3" y="10" width="1.04" height="1.04" fill="#606060"/>
<rect x="4" y="10" width="1.04" height="1.04" fill="#ffffff"/>
<rect x="5" y="10" width="1.04" height="1.04" fill="#ffffff"/>
<rect x="6" y="10" width="1.04" height="1.04" fill="#909090"/>
<rect x="7" y="10" width="1.04" height="1.04" fill="#a0a0a0"/>
<rect x="8" y="10" width="1.04" height="1.04" fill="#ffffff"/>
<rect x="9" y="10" width="1.04" height="1.04" fill="#ffffff"/>
<rect x="10" y="10" width="1.04" height="1.04" fill="#ffffff"/>
<rect x="11" y="10" width="1.04" height="1.04" fill="#ffffff"/>
<rect x="12" y="10" width="1.04" height="1.04" fill="#a8a8a8"/>
<rect x="13" y="10" width="1.04" height="1.04" fill="#ffffff"/>
<rect x="14" y="10" width="1.04" height="1.04" fill="#d8d8d8"/>
<rect x="15" y="10" width="1.04" height="1.04" fill="#ffffff"/>
<rect x="16" y="10" width="1.04" height="1.04" fill="#e8e8e8"/>
<rect x="17" y="10" width="1.04" height="1.04" fill="#707070"/>
<rect x="18" y="10" width="1.04" height="1.04" fill="#ffffff"/>
<rect x="19" y="10" width="1.04" height="1.04" fill="#eeeeee"/>
<rect x="0" y="11" width="1.04" height="1.04" fill="#c0c0c0"/>
<rect x="1" y="11" width="1.04" height="1.04" fill="#8c8c8c"/>
<rect x="2" y="11" width="1.04" height="1.04" fill="#f0f0f0"/>
<rect x="3" y="11" width="1.04" height="1.04" fill="#ffffff"/>
<rect x="4" y="11" width="1.04" height="1.04" fill="#ffffff"/>
<rect x="5" y="11" width="1.04" height="1.04" fill="#8a8a8a"/>
<rect x="6" y="11" width="1.04" height="1.04" fill="#ffffff"/>
<rect x="7" y="11" width="1.04" height="1.04" fill="#a8a8a8"/>
<rect x="8" y="11" width="1.04" height="1.04" fill="#acacac"/>
<rect x="9" y="11" width="1.04" height="1.04" fill="#ffffff"/>
<rect x="10" y="11" width="1.04" height="1.04" fill="#ffffff"/>
<rect x="11" y="11" width="1.04" height="1.04" fill="#ffffff"/>
<rect x="12" y="11" width="1.04" height="1.04" fill="#ffffff"/>
<rect x="13" y="11" width="1.04" height="1.04" fill="#ffffff"/>
<rect x="14" y="11" width="1.04" height="1.04" fill="#c0c0c0"/>
<rect x="15" y="11" width="1.04" height="1.04" fill="#ffffff"/>
<rect x="16" y="11" width="1.04" height="1.04" fill="#ffffff"/>
<rect x="17" y="11" width="1.04" height="1.04" fill="#909090"/>
<rect x="18" y="11" width="1.04" height="1.04" fill="#d4d4d4"/>
<rect x="19" y="11" width="1.04" height="1.04" fill="#ffffff"/>
<rect x="0" y="12" width="1.04" height="1.04" fill="#ffffff"/>
<rect x="1" y="12" width="1.04" height="1.04" fill="#ffffff"/>
<rect x="2" y="12" width="1.04" height="1.04" fill="#ffffff"/>
<rect x="3" y="12" width="1.04" height="1.04" fill="#a8a8a8"/>
<rect x="4" y="12" width="1.04" height="1.04" fill="#b0b0b0"/>
<rect x="5" y="12" width="1.04" height="1.04" fill="#505050"/>
<rect x="6" y="12" width="1.04" height="1.04" fill="#ffffff"/>
<rect x="7" y="12" width="1.04" height="1.04" fill="#ececec"/>
<rect x="8" y="12" width="1.04" height="1.04" fill="#f0f0f0"/>
<rect x="9" y="12" width="1.04" height="1.04" fill="#ffffff"/>
<rect x="10" y="12" width="1.04" height="1.04" fill="#a0a0a0"/>
<rect x="11" y="12" width="1.04" height="1.04" fill="#101010"/>
<rect x="12" y="12" width="1.04" height="1.04" fill="#d0d0d0"/>
<rect x="13" y="12" width="1.04" height="1.04" fill="#a0a0a0"/>
<rect x="14" y="12" width="1.04" height="1.04" fill="#ffffff"/>
<rect x="15" y="12" width="1.04" height="1.04" fill="#a8a8a8"/>
<rect x="16" y="12" width="1.04" height="1.04" fill="#a0a0a0"/>
<rect x="17" y="12" width="1.04" height="1.04" fill="#ffffff"/>
<rect x="18" y="12" width="1.04" height="1.04" fill="#a0a0a0"/>
<rect x="19" y="12" width="1.04" height="1.04" fill="#bcbcbc"/>
<rect x="0" y="13" width="1.04" height="1.04" fill="#a0a0a0"/>
<rect x="1" y="13" width="1.04" height="1.04" fill="#606060"/>
<rect x="2" y="13" width="1.04" height="1.04" fill="#ffffff"/>
<rect x="3" y="13" width="1.04" height="1.04" fill="#d8d8d8"/>
<rect x="4" y="13" width="1.04" height="1.04" fill="#ffffff"/>
<rect x="5" y="13" width="1.04" height="1.04" fill="#ffffff"/>
<rect x="6" y="13" width="1.04" height="1.04" fill="#ffffff"/>
<rect x="7" y="13" width="1.04" height="1.04" fill="#d8d8d8"/>
<rect x="8" y="13" width="1.04" height="1.04" fill="#ffffff"/>
<rect x="9" y="13" width="1.04" height="1.04" fill="#ffffff"/>
<rect x="10" y="13" width="1.04" height="1.04" fill="#ffffff"/>
<rect x="11" y="13" width="1.04" height="1.04" fill="#e8e8e8"/>
<rect x="12" y="13" width="1.04" height="1.04" fill="#ffffff"/>
<rect x="13" y="13" width="1.04" height="1.04" fill="#ffffff"/>
<rect x="14" y="13" width="1.04" height="1.04" fill="#a0a0a0"/>
<rect x="15" y="13" width="1.04" height="1.04" fill="#707070"/>
<rect x="16" y="13" width="1.04" height="1.04" fill="#ffffff"/>
<rect x="17" y="13" width="1.04" height="1.04" fill="#ffffff"/>
<rect x="18" y="13" width="1.04" height="1.04" fill="#606060"/>
<rect x="19" y="13" width="1.04" height="1.04" fill="#909090"/>
<rect x="0" y="14" width="1.04" height="1.04" fill="#ffffff"/>
<rect x="1" y="14" width="1.04" height="1.04" fill="#ffffff"/>
<rect x="2" y="14" width="1.04" height="1.04" fill="#a8a8a8"/>
<rect x="3" y="14" width="1.04" height="1.04" fill="#909090"/>
<rect x="4" y="14" width="1.04" height="1.04" fill="#505050"/>
<rect x="5" y="14" width="1.04" height="1.04" fill="#ffffff"/>
<rect x="6" y="14" width="1.04" height="1.04" fill="#ffffff"/>
<rect x="7" y="14" width="1.04" height="1.04" fill="#bcbcbc"/>
<rect x="8" y="14" width="1.04" height="1.04" fill="#ffffff"/>
<rect x="9" y="14" width="1.04" height="1.04" fill="#ffffff"/>
<rect x="10" y="14" width="1.04" height="1.04" fill="#ffffff"/>
<rect x="11" y="14" width="1.04" height="1.04" fill="#a0a0a0"/>
<rect x="12" y="14" width="1.04" height="1.04" fill="#505050"/>
<rect x="13" y="14" width="1.04" height="1.04" fill="#c0c0c0"/>
<rect x="14" y="14" width="1.04" height="1.04" fill="#c0c0c0"/>
<rect x="15" y="14" width="1.04" height="1.04" fill="#ffffff"/>
<rect x="16" y="14" width="1.04" height="1.04" fill="#808080"/>
<rect x="17" y="14" width="1.04" height="1.04" fill="#ffffff"/>
<rect x="18" y="14" width="1.04" height="1.04" fill="#d8d8d8"/>
<rect x="19" y="14" width="1.04" height="1.04" fill="#707070"/>
<rect x="0" y="15" width="1.04" height="1.04" fill="#eeeeee"/>
<rect x="1" y="15" width="1.04" height="1.04" fill="#ffffff"/>
<rect x="2" y="15" width="1.04" height="1.04" fill="#ffffff"/>
<rect x="3" y="15" width="1.04" height="1.04" fill="#ffffff"/>
<rect x="4" y="15" width="1.04" height="1.04" fill="#d4d4d4"/>
<rect x="5" y="15" width="1.04" height="1.04" fill="#ffffff"/>
<rect x="6" y="15" width="1.04" height="1.04" fill="#a8a8a8"/>
<rect x="7" y="15" width="1.04" height="1.04" fill="#ffffff"/>
<rect x="8" y="15" width="1.04" height="1.04" fill="#ffffff"/>
<rect x="9" y="15" width="1.04" height="1.04" fill="#c8c8c8"/>
<rect x="10" y="15" width="1.04" height="1.04" fill="#707070"/>
<rect x="11" y="15" width="1.04" height="1.04" fill="#ffffff"/>
<rect x="12" y="15" width="1.04" height="1.04" fill="#606060"/>
<rect x="13" y="15" width="1.04" height="1.04" fill="#ffffff"/>
<rect x="14" y="15" width="1.04" height="1.04" fill="#c4c4c4"/>
<rect x="15" y="15" width="1.04" height="1.04" fill="#b8b8b8"/>
<rect x="16" y="15" width="1.04" height="1.04" fill="#dcdcdc"/>
<rect x="17" y="15" width="1.04" height="1.04" fill="#ffffff"/>
<rect x="18" y="15" width="1.04" height="1.04" fill="#a8a8a8"/>
<rect x="19" y="15" width="1.04" height="1.04" fill="#ffffff"/>
<rect x="0" y="16" width="1.04" height="1.04" fill="#5a5a5a"/>
<rect x="1" y="16" width="1.04" height="1.04" fill="#ffffff"/>
<rect x="2" y="16" width="1.04" height="1.04" fill="#d8d8d8"/>
<rect x="3" y="16" width="1.04" height="1.04" fill="#ffffff"/>
<rect x="4" y="16" width="1.04" height="1.04" fill="#ffffff"/>
<rect x="5" y="16" width="1.04" height="1.04" fill="#ffffff"/>
<rect x="6" y="16" width="1.04" height="1.04" fill="#ffffff"/>
<rect x="7" y="16" width="1.04" height="1.04" fill="#ffffff"/>
<rect x="8" y="16" width="1.04" height="1.04" fill="#ffffff"/>
<rect x="9" y="16" width="1.04" height="1.04" fill="#ffffff"/>
<rect x="10" y="16" width="1.04" height="1.04" fill="#ffffff"/>
<rect x="11" y="16" width="1.04" height="1.04" fill="#ffffff"/>
<rect x="12" y="16" width="1.04" height="1.04" fill="#808080"/>
<rect x="13" y="16" width="1.04" height="1.04" fill="#ffffff"/>
<rect x="14" y="16" width="1.04" height="1.04" fill="#707070"/>
<rect x="15" y="16" width="1.04" height="1.04" fill="#8c8c8c"/>
<rect x="16" y="16" width="1.04" height="1.04" fill="#e0e0e0"/>
<rect x="17" y="16" width="1.04" height="1.04" fill="#ffffff"/>
<rect x="18" y="16" width="1.04" height="1.04" fill="#ffffff"/>
<rect x="19" y="16" width="1.04" height="1.04" fill="#ffffff"/>
<rect x="0" y="17" width="1.04" height="1.04" fill="#d0d0d0"/>
<rect x="1" y="17" width="1.04" height="1.04" fill="#303030"/>
<rect x="2" y="17" width="1.04" height="1.04" fill="#ffffff"/>
<rect x="3" y="17" width="1.04" height="1.04" fill="#acacac"/>
<rect x="4" y="17" width="1.04" height="1.04" fill="#ffffff"/>
<rect x="5" y="17" width="1.04" height="1.04" fill="#7a7a7a"/>
<rect x="6" y="17" width="1.04" height="1.04" fill="#a0a0a0"/>
<rect x="7" y="17" width="1.04" height="1.04" fill="#585858"/>
<rect x="8" y="17" width="1.04" height="1.04" fill="#505050"/>
<rect x="9" y="17" width="1.04" height="1.04" fill="#ffffff"/>
<rect x="10" y="17" width="1.04" height="1.04" fill="#d8d8d8"/>
<rect x="11" y="17" width="1.04" height="1.04" fill="#ffffff"/>
<rect x="12" y="17" width="1.04" height="1.04" fill="#d8d8d8"/>
<rect x="13" y="17" width="1.04" height="1.04" fill="#8c8c8c"/>
<rect x="14" y="17" width="1.04" height="1.04" fill="#ececec"/>
<rect x="15" y="17" width="1.04" height="1.04" fill="#808080"/>
<rect x="16" y="17" width="1.04" height="1.04" fill="#ffffff"/>
<rect x="17" y="17" width="1.04" height="1.04" fill="#dcdcdc"/>
<rect x="18" y="17" width="1.04" height="1.04" fill="#606060"/>
<rect x="19" y="17" width="1.04" height="1.04" fill="#bcbcbc"/>
<rect x="0" y="18" width="1.04" height="1.04" fill="#bcbcbc"/>
<rect x="1" y="18" width="1.04" height="1.04" fill="#ffffff"/>
<rect x="2" y="18" width="1.04" height="1.04" fill="#909090"/>
<rect x="3" y="18" width="1.04" height="1.04" fill="#5a5a5a"/>
<rect x="4" y="18" width="1.04" height="1.04" fill="#6a6a6a"/>
<rect x="5" y="18" width="1.04" height="1.04" fill="#ffffff"/>
<rect x="6" y="18" width="1.04" height="1.04" fill="#ffffff"/>
<rect x="7" y="18" width="1.04" height="1.04" fill="#ffffff"/>
<rect x="8" y="18" width="1.04" height="1.04" fill="#ffffff"/>
<rect x="9" y="18" width="1.04" height="1.04" fill="#909090"/>
<rect x="10" y="18" width="1.04" height="1.04" fill="#ececec"/>
<rect x="11" y="18" width="1.04" height="1.04" fill="#c0c0c0"/>
<rect x="12" y="18" width="1.04" height="1.04" fill="#ffffff"/>
<rect x="13" y="18" width="1.04" height="1.04" fill="#d0d0d0"/>
<rect x="14" y="18" width="1.04" height="1.04" fill="#ffffff"/>
<rect x="15" y="18" width="1.04" height="1.04" fill="#dcdcdc"/>
<rect x="16" y="18" width="1.04" height="1.04" fill="#ffffff"/>
<rect x="17" y="18" width="1.04" height="1.04" fill="#909090"/>
<rect x="18" y="18" width="1.04" height="1.04" fill="#f0f0f0"/>
<rect x="19" y="18" width="1.04" height="1.04" fill="#ffffff"/>
<rect x="0" y="19" width="1.04" height="1.04" fill="#ffffff"/>
<rect x="1" y="19" width="1.04" height="1.04" fill="#ffffff"/>
<rect x="2" y="19" width="1.04" height="1.04" fill="#ffffff"/>
<rect x="3" y="19" width="1.04" height="1.04" fill="#909090"/>
<rect x="4" y="19" width="1.04" height="1.04" fill="#ffffff"/>
<rect x="5" y="19" width="1.04" height="1.04" fill="#7c7c7c"/>
<rect x="6" y="19" width="1.04" height="1.04" fill="#ececec"/>
<rect x="7" y="19" width="1.04" height="1.04" fill="#ffffff"/>
<rect x="8" y="19" width="1.04" height="1.04" fill="#ffffff"/>
<rect x="9" y="19" width="1.04" height="1.04" fill="#ffffff"/>
<rect x="10" y="19" width="1.04" height="1.04" fill="#d8d8d8"/>
<rect x="11" y="19" width="1.04" height="1.04" fill="#ffffff"/>
<rect x="12" y="19" width="1.04" height="1.04" fill="#ffffff"/>
<rect x="13" y="19" width="1.04" height="1.04" fill="#ffffff"/>
<rect x="14" y="19" width="1.04" height="1.04" fill="#d0d0d0"/>
<rect x="15" y="19" width="1.04" height="1.04" fill="#bcbcbc"/>
<rect x="16" y="19" width="1.04" height="1.04" fill="#a0a0a0"/>
<rect x="17" y="19" width="1.04" height="1.04" fill="#ececec"/>
<rect x="18" y="19" width="1.04" height="1.04" fill="#7a7a7a"/>
<rect x="19" y="19" width="1.04" height="1.04" fill="#b8b8b8"/>
</g>
<polygon points="370.8,76.3 540.8,173.7 370.8,270.7 200.2,173.7" fill="none" stroke="#2459a2" stroke-width="2.6" stroke-linejoin="miter"/>
<line x1="486.9" y1="192.2" x2="517.5" y2="175" stroke="#000" stroke-width="3.4"/>
<line x1="156.7" y1="527.8" x2="156.7" y2="190" stroke="#000" stroke-width="3.2"/>
<polygon points="156.6,170 142,195.7 171.4,195.7" fill="#000"/>
<text x="132.6" y="329" font-size="30" text-anchor="middle" fill="#000" transform="rotate(-90 132.6 329)">Exposure time</text>
<g shape-rendering="crispEdges">
<rect x="764.5" y="84.1" width="42.18" height="28.6" fill="#bfd3e8"/>
<rect x="806.08" y="84.1" width="42.18" height="28.6" fill="#bfd3e8"/>
<rect x="847.67" y="84.1" width="42.18" height="28.6" fill="#bfd3e8"/>
<rect x="889.25" y="84.1" width="42.18" height="28.6" fill="#bfd3e8"/>
<rect x="930.83" y="84.1" width="42.18" height="28.6" fill="#bfd3e8"/>
<rect x="972.42" y="84.1" width="42.18" height="28.6" fill="#bfd3e8"/>
<rect x="1014" y="84.1" width="42.18" height="28.6" fill="#bfd3e8"/>
<rect x="1055.58" y="84.1" width="42.18" height="28.6" fill="#84a5cb"/>
<rect x="1097.17" y="84.1" width="42.18" height="28.6" fill="#6486b5"/>
<rect x="1138.75" y="84.1" width="42.18" height="28.6" fill="#2c619d"/>
<rect x="1180.33" y="84.1" width="42.18" height="28.6" fill="#1f4e8c"/>
<rect x="1221.92" y="84.1" width="42.18" height="28.6" fill="#254a82"/>
<rect x="764.5" y="112.1" width="42.18" height="28.6" fill="#bfd3e8"/>
<rect x="806.08" y="112.1" width="42.18" height="28.6" fill="#bfd3e8"/>
<rect x="847.67" y="112.1" width="42.18" height="28.6" fill="#bfd3e8"/>
<rect x="889.25" y="112.1" width="42.18" height="28.6" fill="#bfd3e8"/>
<rect x="930.83" y="112.1" width="42.18" height="28.6" fill="#bfd3e8"/>
<rect x="972.42" y="112.1" width="42.18" height="28.6" fill="#bfd3e8"/>
<rect x="1014" y="112.1" width="42.18" height="28.6" fill="#bfd3e8"/>
<rect x="1055.58" y="112.1" width="42.18" height="28.6" fill="#7a9ec6"/>
<rect x="1097.17" y="112.1" width="42.18" height="28.6" fill="#6283b3"/>
<rect x="1138.75" y="112.1" width="42.18" height="28.6" fill="#30659c"/>
<rect x="1180.33" y="112.1" width="42.18" height="28.6" fill="#225f97"/>
<rect x="1221.92" y="112.1" width="42.18" height="28.6" fill="#3d6b9f"/>
<rect x="764.5" y="140.1" width="42.18" height="28.6" fill="#bfd3e8"/>
<rect x="806.08" y="140.1" width="42.18" height="28.6" fill="#bfd3e8"/>
<rect x="847.67" y="140.1" width="42.18" height="28.6" fill="#bfd3e8"/>
<rect x="889.25" y="140.1" width="42.18" height="28.6" fill="#bfd3e8"/>
<rect x="930.83" y="140.1" width="42.18" height="28.6" fill="#bfd3e8"/>
<rect x="972.42" y="140.1" width="42.18" height="28.6" fill="#bfd3e8"/>
<rect x="1014" y="140.1" width="42.18" height="28.6" fill="#93afd1"/>
<rect x="1055.58" y="140.1" width="42.18" height="28.6" fill="#7396c0"/>
<rect x="1097.17" y="140.1" width="42.18" height="28.6" fill="#5880ad"/>
<rect x="1138.75" y="140.1" width="42.18" height="28.6" fill="#2c6199"/>
<rect x="1180.33" y="140.1" width="42.18" height="28.6" fill="#225f97"/>
<rect x="1221.92" y="140.1" width="42.18" height="28.6" fill="#3b6aa0"/>
<rect x="764.5" y="168.1" width="42.18" height="28.6" fill="#bfd3e8"/>
<rect x="806.08" y="168.1" width="42.18" height="28.6" fill="#bfd3e8"/>
<rect x="847.67" y="168.1" width="42.18" height="28.6" fill="#bfd3e8"/>
<rect x="889.25" y="168.1" width="42.18" height="28.6" fill="#bfd3e8"/>
<rect x="930.83" y="168.1" width="42.18" height="28.6" fill="#bfd3e8"/>
<rect x="972.42" y="168.1" width="42.18" height="28.6" fill="#bfd3e8"/>
<rect x="1014" y="168.1" width="42.18" height="28.6" fill="#8aa8cd"/>
<rect x="1055.58" y="168.1" width="42.18" height="28.6" fill="#6d90bd"/>
<rect x="1097.17" y="168.1" width="42.18" height="28.6" fill="#4c78a8"/>
<rect x="1138.75" y="168.1" width="42.18" height="28.6" fill="#2a5f99"/>
<rect x="1180.33" y="168.1" width="42.18" height="28.6" fill="#225d97"/>
<rect x="1221.92" y="168.1" width="42.18" height="28.6" fill="#4270a8"/>
<rect x="764.5" y="196.1" width="42.18" height="28.6" fill="#bfd3e8"/>
<rect x="806.08" y="196.1" width="42.18" height="28.6" fill="#bfd3e8"/>
<rect x="847.67" y="196.1" width="42.18" height="28.6" fill="#bfd3e8"/>
<rect x="889.25" y="196.1" width="42.18" height="28.6" fill="#bfd3e8"/>
<rect x="930.83" y="196.1" width="42.18" height="28.6" fill="#bfd3e8"/>
<rect x="972.42" y="196.1" width="42.18" height="28.6" fill="#97b2d3"/>
<rect x="1014" y="196.1" width="42.18" height="28.6" fill="#7ba0c6"/>
<rect x="1055.58" y="196.1" width="42.18" height="28.6" fill="#5b80b2"/>
<rect x="1097.17" y="196.1" width="42.18" height="28.6" fill="#4670a4"/>
<rect x="1138.75" y="196.1" width="42.18" height="28.6" fill="#285e98"/>
<rect x="1180.33" y="196.1" width="42.18" height="28.6" fill="#245f98"/>
<rect x="1221.92" y="196.1" width="42.18" height="28.6" fill="#4d77aa"/>
<rect x="764.5" y="224.1" width="42.18" height="28.6" fill="#bfd3e8"/>
<rect x="806.08" y="224.1" width="42.18" height="28.6" fill="#bfd3e8"/>
<rect x="847.67" y="224.1" width="42.18" height="28.6" fill="#bfd3e8"/>
<rect x="889.25" y="224.1" width="42.18" height="28.6" fill="#bfd3e8"/>
<rect x="930.83" y="224.1" width="42.18" height="28.6" fill="#97b2d3"/>
<rect x="972.42" y="224.1" width="42.18" height="28.6" fill="#8aa8cc"/>
<rect x="1014" y="224.1" width="42.18" height="28.6" fill="#7194c0"/>
<rect x="1055.58" y="224.1" width="42.18" height="28.6" fill="#5079ab"/>
<rect x="1097.17" y="224.1" width="42.18" height="28.6" fill="#3a6a9e"/>
<rect x="1138.75" y="224.1" width="42.18" height="28.6" fill="#215c96"/>
<rect x="1180.33" y="224.1" width="42.18" height="28.6" fill="#2a5f99"/>
<rect x="1221.92" y="224.1" width="42.18" height="28.6" fill="#5a81b0"/>
<rect x="764.5" y="252.1" width="42.18" height="28.6" fill="#bfd3e8"/>
<rect x="806.08" y="252.1" width="42.18" height="28.6" fill="#bfd3e8"/>
<rect x="847.67" y="252.1" width="42.18" height="28.6" fill="#bfd3e8"/>
<rect x="889.25" y="252.1" width="42.18" height="28.6" fill="#96b2d3"/>
<rect x="930.83" y="252.1" width="42.18" height="28.6" fill="#84a5ca"/>
<rect x="972.42" y="252.1" width="42.18" height="28.6" fill="#7b9ec5"/>
<rect x="1014" y="252.1" width="42.18" height="28.6" fill="#6688b6"/>
<rect x="1055.58" y="252.1" width="42.18" height="28.6" fill="#4671a5"/>
<rect x="1097.17" y="252.1" width="42.18" height="28.6" fill="#35679b"/>
<rect x="1138.75" y="252.1" width="42.18" height="28.6" fill="#1f5b95"/>
<rect x="1180.33" y="252.1" width="42.18" height="28.6" fill="#2e629b"/>
<rect x="1221.92" y="252.1" width="42.18" height="28.6" fill="#6486b5"/>
<rect x="764.5" y="280.1" width="42.18" height="28.6" fill="#bfd3e8"/>
<rect x="806.08" y="280.1" width="42.18" height="28.6" fill="#bfd3e8"/>
<rect x="847.67" y="280.1" width="42.18" height="28.6" fill="#bfd3e8"/>
<rect x="889.25" y="280.1" width="42.18" height="28.6" fill="#8aa8cc"/>
<rect x="930.83" y="280.1" width="42.18" height="28.6" fill="#7698c1"/>
<rect x="972.42" y="280.1" width="42.18" height="28.6" fill="#6e91bb"/>
<rect x="1014" y="280.1" width="42.18" height="28.6" fill="#5a80ae"/>
<rect x="1055.58" y="280.1" width="42.18" height="28.6" fill="#3e6b9f"/>
<rect x="1097.17" y="280.1" width="42.18" height="28.6" fill="#2e6198"/>
<rect x="1138.75" y="280.1" width="42.18" height="28.6" fill="#1f5a94"/>
<rect x="1180.33" y="280.1" width="42.18" height="28.6" fill="#33669d"/>
<rect x="1221.92" y="280.1" width="42.18" height="28.6" fill="#6f93bb"/>
<rect x="764.5" y="308.1" width="42.18" height="28.6" fill="#bfd3e8"/>
<rect x="806.08" y="308.1" width="42.18" height="28.6" fill="#bfd3e8"/>
<rect x="847.67" y="308.1" width="42.18" height="28.6" fill="#98b3d4"/>
<rect x="889.25" y="308.1" width="42.18" height="28.6" fill="#7a9dc4"/>
<rect x="930.83" y="308.1" width="42.18" height="28.6" fill="#6688b5"/>
<rect x="972.42" y="308.1" width="42.18" height="28.6" fill="#6486b3"/>
<rect x="1014" y="308.1" width="42.18" height="28.6" fill="#4b76a6"/>
<rect x="1055.58" y="308.1" width="42.18" height="28.6" fill="#2f6299"/>
<rect x="1097.17" y="308.1" width="42.18" height="28.6" fill="#235e97"/>
<rect x="1138.75" y="308.1" width="42.18" height="28.6" fill="#1f5a94"/>
<rect x="1180.33" y="308.1" width="42.18" height="28.6" fill="#3a689e"/>
<rect x="1221.92" y="308.1" width="42.18" height="28.6" fill="#7b9ec6"/>
<rect x="764.5" y="336.1" width="42.18" height="28.6" fill="#9ab4d4"/>
<rect x="806.08" y="336.1" width="42.18" height="28.6" fill="#8da9cd"/>
<rect x="847.67" y="336.1" width="42.18" height="28.6" fill="#7ca0c5"/>
<rect x="889.25" y="336.1" width="42.18" height="28.6" fill="#6688b5"/>
<rect x="930.83" y="336.1" width="42.18" height="28.6" fill="#5580b0"/>
<rect x="972.42" y="336.1" width="42.18" height="28.6" fill="#527cac"/>
<rect x="1014" y="336.1" width="42.18" height="28.6" fill="#3e6ca0"/>
<rect x="1055.58" y="336.1" width="42.18" height="28.6" fill="#2a5f98"/>
<rect x="1097.17" y="336.1" width="42.18" height="28.6" fill="#205a94"/>
<rect x="1138.75" y="336.1" width="42.18" height="28.6" fill="#265d96"/>
<rect x="1180.33" y="336.1" width="42.18" height="28.6" fill="#4871a6"/>
<rect x="1221.92" y="336.1" width="42.18" height="28.6" fill="#86a6cb"/>
<rect x="764.5" y="364.1" width="42.18" height="28.6" fill="#7c9fc6"/>
<rect x="806.08" y="364.1" width="42.18" height="28.6" fill="#7a9cc3"/>
<rect x="847.67" y="364.1" width="42.18" height="28.6" fill="#6d8fba"/>
<rect x="889.25" y="364.1" width="42.18" height="28.6" fill="#527ead"/>
<rect x="930.83" y="364.1" width="42.18" height="28.6" fill="#4673a6"/>
<rect x="972.42" y="364.1" width="42.18" height="28.6" fill="#4371a4"/>
<rect x="1014" y="364.1" width="42.18" height="28.6" fill="#2e6399"/>
<rect x="1055.58" y="364.1" width="42.18" height="28.6" fill="#215b94"/>
<rect x="1097.17" y="364.1" width="42.18" height="28.6" fill="#1e5a93"/>
<rect x="1138.75" y="364.1" width="42.18" height="28.6" fill="#2b5e98"/>
<rect x="1180.33" y="364.1" width="42.18" height="28.6" fill="#5580b0"/>
<rect x="1221.92" y="364.1" width="42.18" height="28.6" fill="#bfd3e8"/>
<rect x="764.5" y="392.1" width="42.18" height="28.6" fill="#6688b5"/>
<rect x="806.08" y="392.1" width="42.18" height="28.6" fill="#6487b4"/>
<rect x="847.67" y="392.1" width="42.18" height="28.6" fill="#5a81ae"/>
<rect x="889.25" y="392.1" width="42.18" height="28.6" fill="#4573a6"/>
<rect x="930.83" y="392.1" width="42.18" height="28.6" fill="#366a9e"/>
<rect x="972.42" y="392.1" width="42.18" height="28.6" fill="#33679c"/>
<rect x="1014" y="392.1" width="42.18" height="28.6" fill="#275f98"/>
<rect x="1055.58" y="392.1" width="42.18" height="28.6" fill="#1e5a92"/>
<rect x="1097.17" y="392.1" width="42.18" height="28.6" fill="#1b5991"/>
<rect x="1138.75" y="392.1" width="42.18" height="28.6" fill="#2f6299"/>
<rect x="1180.33" y="392.1" width="42.18" height="28.6" fill="#6488b5"/>
<rect x="1221.92" y="392.1" width="42.18" height="28.6" fill="#bfd3e8"/>
<rect x="764.5" y="420.1" width="42.18" height="28.6" fill="#5078a9"/>
<rect x="806.08" y="420.1" width="42.18" height="28.6" fill="#4e78a9"/>
<rect x="847.67" y="420.1" width="42.18" height="28.6" fill="#44719f"/>
<rect x="889.25" y="420.1" width="42.18" height="28.6" fill="#2e6599"/>
<rect x="930.83" y="420.1" width="42.18" height="28.6" fill="#2c6099"/>
<rect x="972.42" y="420.1" width="42.18" height="28.6" fill="#285f98"/>
<rect x="1014" y="420.1" width="42.18" height="28.6" fill="#1e5891"/>
<rect x="1055.58" y="420.1" width="42.18" height="28.6" fill="#1c5690"/>
<rect x="1097.17" y="420.1" width="42.18" height="28.6" fill="#1e5a93"/>
<rect x="1138.75" y="420.1" width="42.18" height="28.6" fill="#3a6a9f"/>
<rect x="1180.33" y="420.1" width="42.18" height="28.6" fill="#7395c0"/>
<rect x="1221.92" y="420.1" width="42.18" height="28.6" fill="#bfd3e8"/>
<rect x="764.5" y="448.1" width="42.18" height="28.6" fill="#33659c"/>
<rect x="806.08" y="448.1" width="42.18" height="28.6" fill="#2f6299"/>
<rect x="847.67" y="448.1" width="42.18" height="28.6" fill="#2c5f97"/>
<rect x="889.25" y="448.1" width="42.18" height="28.6" fill="#215c94"/>
<rect x="930.83" y="448.1" width="42.18" height="28.6" fill="#1c5891"/>
<rect x="972.42" y="448.1" width="42.18" height="28.6" fill="#1d5890"/>
<rect x="1014" y="448.1" width="42.18" height="28.6" fill="#1b558e"/>
<rect x="1055.58" y="448.1" width="42.18" height="28.6" fill="#1b548d"/>
<rect x="1097.17" y="448.1" width="42.18" height="28.6" fill="#1f5992"/>
<rect x="1138.75" y="448.1" width="42.18" height="28.6" fill="#4570a5"/>
<rect x="1180.33" y="448.1" width="42.18" height="28.6" fill="#84a5cb"/>
<rect x="1221.92" y="448.1" width="42.18" height="28.6" fill="#bfd3e8"/>
<rect x="764.5" y="476.1" width="42.18" height="28.6" fill="#1b5894"/>
<rect x="806.08" y="476.1" width="42.18" height="28.6" fill="#1b5893"/>
<rect x="847.67" y="476.1" width="42.18" height="28.6" fill="#1c5591"/>
<rect x="889.25" y="476.1" width="42.18" height="28.6" fill="#1e528e"/>
<rect x="930.83" y="476.1" width="42.18" height="28.6" fill="#1e528d"/>
<rect x="972.42" y="476.1" width="42.18" height="28.6" fill="#1e528d"/>
<rect x="1014" y="476.1" width="42.18" height="28.6" fill="#1c528e"/>
<rect x="1055.58" y="476.1" width="42.18" height="28.6" fill="#1c5790"/>
<rect x="1097.17" y="476.1" width="42.18" height="28.6" fill="#2c5f97"/>
<rect x="1138.75" y="476.1" width="42.18" height="28.6" fill="#5780ae"/>
<rect x="1180.33" y="476.1" width="42.18" height="28.6" fill="#bfd3e8"/>
<rect x="1221.92" y="476.1" width="42.18" height="28.6" fill="#bfd3e8"/>
<rect x="764.5" y="504.1" width="42.18" height="28.6" fill="#244984"/>
<rect x="806.08" y="504.1" width="42.18" height="28.6" fill="#234883"/>
<rect x="847.67" y="504.1" width="42.18" height="28.6" fill="#244a85"/>
<rect x="889.25" y="504.1" width="42.18" height="28.6" fill="#224b86"/>
<rect x="930.83" y="504.1" width="42.18" height="28.6" fill="#214c87"/>
<rect x="972.42" y="504.1" width="42.18" height="28.6" fill="#204e89"/>
<rect x="1014" y="504.1" width="42.18" height="28.6" fill="#1d558f"/>
<rect x="1055.58" y="504.1" width="42.18" height="28.6" fill="#2a5f97"/>
<rect x="1097.17" y="504.1" width="42.18" height="28.6" fill="#3e6b9f"/>
<rect x="1138.75" y="504.1" width="42.18" height="28.6" fill="#6f93bb"/>
<rect x="1180.33" y="504.1" width="42.18" height="28.6" fill="#bfd3e8"/>
<rect x="1221.92" y="504.1" width="42.18" height="28.6" fill="#bfd3e8"/>
</g>
<rect x="764.5" y="84.1" width="499" height="448" fill="none" stroke="#262626" stroke-width="1.6"/>
<line x1="764.5" y1="98.1" x2="770.5" y2="98.1" stroke="#262626" stroke-width="1.5"/>
<line x1="1263.5" y1="98.1" x2="1257.5" y2="98.1" stroke="#262626" stroke-width="1.5"/>
<line x1="764.5" y1="126.1" x2="770.5" y2="126.1" stroke="#262626" stroke-width="1.5"/>
<line x1="1263.5" y1="126.1" x2="1257.5" y2="126.1" stroke="#262626" stroke-width="1.5"/>
<line x1="764.5" y1="154.1" x2="770.5" y2="154.1" stroke="#262626" stroke-width="1.5"/>
<line x1="1263.5" y1="154.1" x2="1257.5" y2="154.1" stroke="#262626" stroke-width="1.5"/>
<line x1="764.5" y1="182.1" x2="770.5" y2="182.1" stroke="#262626" stroke-width="1.5"/>
<line x1="1263.5" y1="182.1" x2="1257.5" y2="182.1" stroke="#262626" stroke-width="1.5"/>
<line x1="764.5" y1="210.1" x2="770.5" y2="210.1" stroke="#262626" stroke-width="1.5"/>
<line x1="1263.5" y1="210.1" x2="1257.5" y2="210.1" stroke="#262626" stroke-width="1.5"/>
<line x1="764.5" y1="238.1" x2="770.5" y2="238.1" stroke="#262626" stroke-width="1.5"/>
<line x1="1263.5" y1="238.1" x2="1257.5" y2="238.1" stroke="#262626" stroke-width="1.5"/>
<line x1="764.5" y1="266.1" x2="770.5" y2="266.1" stroke="#262626" stroke-width="1.5"/>
<line x1="1263.5" y1="266.1" x2="1257.5" y2="266.1" stroke="#262626" stroke-width="1.5"/>
<line x1="764.5" y1="294.1" x2="770.5" y2="294.1" stroke="#262626" stroke-width="1.5"/>
<line x1="1263.5" y1="294.1" x2="1257.5" y2="294.1" stroke="#262626" stroke-width="1.5"/>
<line x1="764.5" y1="322.1" x2="770.5" y2="322.1" stroke="#262626" stroke-width="1.5"/>
<line x1="1263.5" y1="322.1" x2="1257.5" y2="322.1" stroke="#262626" stroke-width="1.5"/>
<line x1="764.5" y1="350.1" x2="770.5" y2="350.1" stroke="#262626" stroke-width="1.5"/>
<line x1="1263.5" y1="350.1" x2="1257.5" y2="350.1" stroke="#262626" stroke-width="1.5"/>
<line x1="764.5" y1="378.1" x2="770.5" y2="378.1" stroke="#262626" stroke-width="1.5"/>
<line x1="1263.5" y1="378.1" x2="1257.5" y2="378.1" stroke="#262626" stroke-width="1.5"/>
<line x1="764.5" y1="406.1" x2="770.5" y2="406.1" stroke="#262626" stroke-width="1.5"/>
<line x1="1263.5" y1="406.1" x2="1257.5" y2="406.1" stroke="#262626" stroke-width="1.5"/>
<line x1="764.5" y1="434.1" x2="770.5" y2="434.1" stroke="#262626" stroke-width="1.5"/>
<line x1="1263.5" y1="434.1" x2="1257.5" y2="434.1" stroke="#262626" stroke-width="1.5"/>
<line x1="764.5" y1="462.1" x2="770.5" y2="462.1" stroke="#262626" stroke-width="1.5"/>
<line x1="1263.5" y1="462.1" x2="1257.5" y2="462.1" stroke="#262626" stroke-width="1.5"/>
<line x1="764.5" y1="490.1" x2="770.5" y2="490.1" stroke="#262626" stroke-width="1.5"/>
<line x1="1263.5" y1="490.1" x2="1257.5" y2="490.1" stroke="#262626" stroke-width="1.5"/>
<line x1="764.5" y1="518.1" x2="770.5" y2="518.1" stroke="#262626" stroke-width="1.5"/>
<line x1="1263.5" y1="518.1" x2="1257.5" y2="518.1" stroke="#262626" stroke-width="1.5"/>
<line x1="785.29" y1="84.1" x2="785.29" y2="90.1" stroke="#262626" stroke-width="1.5"/>
<line x1="785.29" y1="532.1" x2="785.29" y2="526.1" stroke="#262626" stroke-width="1.5"/>
<line x1="826.88" y1="84.1" x2="826.88" y2="90.1" stroke="#262626" stroke-width="1.5"/>
<line x1="826.88" y1="532.1" x2="826.88" y2="526.1" stroke="#262626" stroke-width="1.5"/>
<line x1="868.46" y1="84.1" x2="868.46" y2="90.1" stroke="#262626" stroke-width="1.5"/>
<line x1="868.46" y1="532.1" x2="868.46" y2="526.1" stroke="#262626" stroke-width="1.5"/>
<line x1="910.04" y1="84.1" x2="910.04" y2="90.1" stroke="#262626" stroke-width="1.5"/>
<line x1="910.04" y1="532.1" x2="910.04" y2="526.1" stroke="#262626" stroke-width="1.5"/>
<line x1="951.62" y1="84.1" x2="951.62" y2="90.1" stroke="#262626" stroke-width="1.5"/>
<line x1="951.62" y1="532.1" x2="951.62" y2="526.1" stroke="#262626" stroke-width="1.5"/>
<line x1="993.21" y1="84.1" x2="993.21" y2="90.1" stroke="#262626" stroke-width="1.5"/>
<line x1="993.21" y1="532.1" x2="993.21" y2="526.1" stroke="#262626" stroke-width="1.5"/>
<line x1="1034.79" y1="84.1" x2="1034.79" y2="90.1" stroke="#262626" stroke-width="1.5"/>
<line x1="1034.79" y1="532.1" x2="1034.79" y2="526.1" stroke="#262626" stroke-width="1.5"/>
<line x1="1076.38" y1="84.1" x2="1076.38" y2="90.1" stroke="#262626" stroke-width="1.5"/>
<line x1="1076.38" y1="532.1" x2="1076.38" y2="526.1" stroke="#262626" stroke-width="1.5"/>
<line x1="1117.96" y1="84.1" x2="1117.96" y2="90.1" stroke="#262626" stroke-width="1.5"/>
<line x1="1117.96" y1="532.1" x2="1117.96" y2="526.1" stroke="#262626" stroke-width="1.5"/>
<line x1="1159.54" y1="532.1" x2="1159.54" y2="526.1" stroke="#262626" stroke-width="1.5"/>
<line x1="1201.12" y1="532.1" x2="1201.12" y2="526.1" stroke="#262626" stroke-width="1.5"/>
<line x1="1242.71" y1="532.1" x2="1242.71" y2="526.1" stroke="#262626" stroke-width="1.5"/>
<text x="739" y="108.4" font-size="29" text-anchor="middle" fill="#262626">&gt;15</text>
<text x="739" y="164.4" font-size="29" text-anchor="middle" fill="#262626">14</text>
<text x="739" y="220.4" font-size="29" text-anchor="middle" fill="#262626">12</text>
<text x="739" y="276.4" font-size="29" text-anchor="middle" fill="#262626">10</text>
<text x="739" y="332.4" font-size="29" text-anchor="middle" fill="#262626">8</text>
<text x="739" y="388.4" font-size="29" text-anchor="middle" fill="#262626">6</text>
<text x="739" y="444.4" font-size="29" text-anchor="middle" fill="#262626">4</text>
<text x="739" y="500.4" font-size="29" text-anchor="middle" fill="#262626">2</text>
<text transform="translate(775.4 556) rotate(-30)" x="0" y="8.3" font-size="23.2" text-anchor="middle" fill="#262626">0.005</text>
<text transform="translate(818.2 557.3) rotate(-30)" x="0" y="8.3" font-size="23.2" text-anchor="middle" fill="#262626">0.01</text>
<text transform="translate(863.7 555.3) rotate(-30)" x="0" y="8.3" font-size="23.2" text-anchor="middle" fill="#262626">0.02</text>
<text transform="translate(905.2 555) rotate(-30)" x="0" y="8.3" font-size="23.2" text-anchor="middle" fill="#262626">0.05</text>
<text transform="translate(945.3 557.7) rotate(-30)" x="0" y="8.3" font-size="23.2" text-anchor="middle" fill="#262626">0.08</text>
<text transform="translate(986.8 556.7) rotate(-30)" x="0" y="8.3" font-size="23.2" text-anchor="middle" fill="#262626">0.1</text>
<text transform="translate(1028.8 555.8) rotate(-30)" x="0" y="8.3" font-size="23.2" text-anchor="middle" fill="#262626">0.15</text>
<text transform="translate(1072.2 557.3) rotate(-30)" x="0" y="8.3" font-size="23.2" text-anchor="middle" fill="#262626">0.2</text>
<text transform="translate(1114.3 557.6) rotate(-30)" x="0" y="8.3" font-size="23.2" text-anchor="middle" fill="#262626">0.3</text>
<text transform="translate(1157 557.3) rotate(-30)" x="0" y="8.3" font-size="23.2" text-anchor="middle" fill="#262626">0.5</text>
<text transform="translate(1201.3 555.8) rotate(-30)" x="0" y="8.3" font-size="23.2" text-anchor="middle" fill="#262626">0.75</text>
<text transform="translate(1243.2 554.8) rotate(-30)" x="0" y="8.3" font-size="23.2" text-anchor="middle" fill="#262626">1</text>
<text x="1002" y="600.8" font-size="29.4" text-anchor="middle" fill="#262626">Exposure time (s)</text>
<text x="717.2" y="314.5" font-size="29" text-anchor="middle" fill="#262626" transform="rotate(-90 717.2 314.5)">Photon counts</text>
<defs><linearGradient id="cbg" x1="0" y1="0" x2="0" y2="1"><stop offset="0" stop-color="#244684"/><stop offset="0.2" stop-color="#1d5a95"/><stop offset="0.4" stop-color="#3d6ca2"/><stop offset="0.6" stop-color="#6289b8"/><stop offset="0.8" stop-color="#8fafd2"/><stop offset="1" stop-color="#bfd3ea"/></linearGradient></defs>
<rect x="1291.3" y="125.7" width="30" height="398.5" fill="url(#cbg)" stroke="#262626" stroke-width="1.6"/>
<line x1="1321.3" y1="125.7" x2="1316.8" y2="125.7" stroke="#262626" stroke-width="1.5"/>
<line x1="1321.3" y1="165.55" x2="1316.8" y2="165.55" stroke="#262626" stroke-width="1.5"/>
<line x1="1321.3" y1="205.4" x2="1316.8" y2="205.4" stroke="#262626" stroke-width="1.5"/>
<line x1="1321.3" y1="245.25" x2="1316.8" y2="245.25" stroke="#262626" stroke-width="1.5"/>
<line x1="1321.3" y1="285.1" x2="1316.8" y2="285.1" stroke="#262626" stroke-width="1.5"/>
<line x1="1321.3" y1="324.95" x2="1316.8" y2="324.95" stroke="#262626" stroke-width="1.5"/>
<line x1="1321.3" y1="364.8" x2="1316.8" y2="364.8" stroke="#262626" stroke-width="1.5"/>
<line x1="1321.3" y1="404.65" x2="1316.8" y2="404.65" stroke="#262626" stroke-width="1.5"/>
<line x1="1321.3" y1="444.5" x2="1316.8" y2="444.5" stroke="#262626" stroke-width="1.5"/>
<line x1="1321.3" y1="484.35" x2="1316.8" y2="484.35" stroke="#262626" stroke-width="1.5"/>
<line x1="1321.3" y1="524.2" x2="1316.8" y2="524.2" stroke="#262626" stroke-width="1.5"/>
<text x="1329.5" y="132.2" font-size="28.6" text-anchor="start" fill="#262626">0</text>
<text x="1328" y="213.3" font-size="28.6" text-anchor="start" fill="#262626">-1</text>
<text x="1328" y="293" font-size="28.6" text-anchor="start" fill="#262626">-2</text>
<text x="1328" y="372.7" font-size="28.6" text-anchor="start" fill="#262626">-3</text>
<text x="1328" y="452.4" font-size="28.6" text-anchor="start" fill="#262626">-4</text>
<text x="1328" y="532.1" font-size="28.6" text-anchor="start" fill="#262626">-5</text>
<text x="1320.8" y="104.2" font-size="23.7" text-anchor="middle" fill="#262626">Log (%)</text>
<g shape-rendering="crispEdges">
<rect x="1496.43" y="314.36" width="19.5" height="209.44" fill="#a8162f"/>
<rect x="1520.71" y="265.96" width="19.5" height="257.84" fill="#a8162f"/>
<rect x="1544.99" y="332.84" width="19.5" height="190.96" fill="#a8162f"/>
<rect x="1569.27" y="400.6" width="19.5" height="123.2" fill="#a8162f"/>
<rect x="1593.55" y="462.2" width="19.5" height="61.6" fill="#a8162f"/>
<rect x="1617.83" y="497.4" width="19.5" height="26.4" fill="#a8162f"/>
<rect x="1642.11" y="513.24" width="19.5" height="10.56" fill="#a8162f"/>
<rect x="1666.39" y="520.28" width="19.5" height="3.52" fill="#a8162f"/>
<rect x="1690.67" y="522.92" width="19.5" height="0.88" fill="#a8162f"/>
</g>
<polyline points="1506,329.3 1530.2,294.5 1554.4,341 1578.7,400 1603,470 1615,485 1627,492 1640,499 1651.9,507 1664,513 1676,517 1700,521 1740,523 1999,523.6" fill="none" stroke="#a8162f" stroke-width="2.4" stroke-linejoin="round"/>
<polyline points="1495.5,364 1526.4,252.5 1555.5,291 1584.4,390 1613.3,466 1642,507 1671,519 1700,522.5 1999,523.6" fill="none" stroke="#a8162f" stroke-width="2.4" stroke-linejoin="round" stroke-dasharray="13.4 13.6" stroke-dashoffset="26.86"/>
<g shape-rendering="crispEdges">
<rect x="1496.43" y="499.69" width="19.5" height="24.11" fill="#ee8b3e"/>
<rect x="1520.71" y="443.9" width="19.5" height="79.9" fill="#ee8b3e"/>
<rect x="1544.99" y="392.24" width="19.5" height="131.56" fill="#ee8b3e"/>
<rect x="1569.27" y="366.46" width="19.5" height="157.34" fill="#ee8b3e"/>
<rect x="1593.55" y="374.2" width="19.5" height="149.6" fill="#ee8b3e"/>
<rect x="1617.83" y="404.12" width="19.5" height="119.68" fill="#ee8b3e"/>
<rect x="1642.11" y="436.77" width="19.5" height="87.03" fill="#ee8b3e"/>
<rect x="1666.39" y="471" width="19.5" height="52.8" fill="#ee8b3e"/>
<rect x="1690.67" y="493" width="19.5" height="30.8" fill="#ee8b3e"/>
<rect x="1714.95" y="506.2" width="19.5" height="17.6" fill="#ee8b3e"/>
<rect x="1739.23" y="515" width="19.5" height="8.8" fill="#ee8b3e"/>
<rect x="1763.51" y="519.4" width="19.5" height="4.4" fill="#ee8b3e"/>
<rect x="1787.79" y="522.04" width="19.5" height="1.76" fill="#ee8b3e"/>
<rect x="1812.07" y="522.92" width="19.5" height="0.88" fill="#ee8b3e"/>
</g>
<polyline points="1492.5,490 1506,470 1520.4,449.5 1530.2,433 1543.9,408.1 1554.4,392 1568.8,382.5 1578.7,377 1591,376 1603,380 1612.6,388 1626.7,403.6 1637.7,414.6 1652.6,438 1676,466 1700,490 1724,506 1748,514.5 1773,519.5 1797,521.5 1821,522.7 1999,523.6" fill="none" stroke="#ee8b3e" stroke-width="2.4" stroke-linejoin="round"/>
<polyline points="1492.5,514 1509.6,483.8 1531.2,437 1553,386.5 1566,364 1583,350 1597,355 1608.7,368.4 1624.4,390.3 1637.7,414.6 1652,437 1670,462 1700,492 1730,510 1760,518.5 1800,522 1999,523.6" fill="none" stroke="#ee8b3e" stroke-width="2.4" stroke-linejoin="round" stroke-dasharray="13.4 13.6" stroke-dashoffset="19.60"/>
<g shape-rendering="crispEdges">
<rect x="1496.43" y="522.92" width="19.5" height="0.88" fill="#1d4580"/>
<rect x="1520.71" y="522.04" width="19.5" height="1.76" fill="#1d4580"/>
<rect x="1544.99" y="518.52" width="19.5" height="5.28" fill="#1d4580"/>
<rect x="1569.27" y="511.48" width="19.5" height="12.32" fill="#1d4580"/>
<rect x="1593.55" y="496.52" width="19.5" height="27.28" fill="#1d4580"/>
<rect x="1617.83" y="477.16" width="19.5" height="46.64" fill="#1d4580"/>
<rect x="1642.11" y="456.92" width="19.5" height="66.88" fill="#1d4580"/>
<rect x="1666.39" y="440.2" width="19.5" height="83.6" fill="#1d4580"/>
<rect x="1690.67" y="430.52" width="19.5" height="93.28" fill="#1d4580"/>
<rect x="1714.95" y="425.5" width="19.5" height="98.3" fill="#1d4580"/>
<rect x="1739.23" y="429.82" width="19.5" height="93.98" fill="#1d4580"/>
<rect x="1763.51" y="440.2" width="19.5" height="83.6" fill="#1d4580"/>
<rect x="1787.79" y="453.93" width="19.5" height="69.87" fill="#1d4580"/>
<rect x="1812.07" y="467.04" width="19.5" height="56.76" fill="#1d4580"/>
<rect x="1836.35" y="481.12" width="19.5" height="42.68" fill="#1d4580"/>
<rect x="1860.63" y="492.38" width="19.5" height="31.42" fill="#1d4580"/>
<rect x="1884.91" y="501.8" width="19.5" height="22" fill="#1d4580"/>
<rect x="1909.19" y="508.84" width="19.5" height="14.96" fill="#1d4580"/>
<rect x="1933.47" y="514.38" width="19.5" height="9.42" fill="#1d4580"/>
<rect x="1957.75" y="518.17" width="19.5" height="5.63" fill="#1d4580"/>
<rect x="1982.03" y="520.02" width="19.5" height="3.78" fill="#1d4580"/>
</g>
<polyline points="1492.5,523 1520.3,519.1 1555.5,510.9 1579,502.7 1593.1,495.6 1600,492.2 1613.3,481.8 1641.5,463.2 1666.4,441.6 1673,437 1685,432 1700,429 1715,427.5 1733.8,427.4 1758.3,430.8 1782.7,440.2 1809,455.2 1831.6,468.3 1856,482.4 1880.5,492.8 1904.9,503.1 1929.3,510.6 1953.8,516.3 1978.2,519.3 1998.5,520.8" fill="none" stroke="#1d4580" stroke-width="2.4" stroke-linejoin="round"/>
<polyline points="1603.3,496.88 1605.73,495.41 1608.16,493.9 1610.58,492.34 1613.01,490.73 1615.44,489.08 1617.87,487.37 1620.3,485.62 1622.72,483.83 1625.15,482 1627.58,480.13 1630.01,478.22 1632.44,476.27 1634.86,474.29 1637.29,472.28 1639.72,470.24 1642.15,468.18 1644.58,466.09 1647,463.99 1649.43,461.87 1651.86,459.75 1654.29,457.62 1656.72,455.48 1659.14,453.35 1661.57,451.22 1664,449.11 1666.43,447.01 1668.86,444.93 1671.28,442.88 1673.71,440.85 1676.14,438.87 1678.57,436.92 1681,435.01 1683.42,433.16 1685.85,431.36 1688.28,429.62 1690.71,427.95 1693.14,426.34 1695.56,424.8 1697.99,423.35 1700.42,421.97 1702.85,420.68 1705.28,419.48 1707.7,418.37 1710.13,417.35 1712.56,416.44 1714.99,415.62 1717.42,414.91 1719.84,414.31 1722.27,413.81 1724.7,413.42 1727.13,413.14 1729.56,412.98 1731.98,412.92 1734.41,412.98 1736.84,413.14 1739.27,413.42 1741.7,413.81 1744.12,414.31 1746.55,414.91 1748.98,415.62 1751.41,416.44 1753.84,417.35 1756.26,418.37 1758.69,419.48 1761.12,420.68 1763.55,421.97 1765.98,423.35 1768.4,424.8 1770.83,426.34 1773.26,427.95 1775.69,429.62 1778.12,431.36 1780.54,433.16 1782.97,435.01 1785.4,436.92 1787.83,438.87 1790.26,440.85 1792.68,442.88 1795.11,444.93 1797.54,447.01 1799.97,449.11 1802.4,451.22 1804.82,453.35 1807.25,455.48 1809.68,457.62 1812.11,459.75 1814.54,461.87 1816.96,463.99 1819.39,466.09 1821.82,468.18 1824.25,470.24 1826.68,472.28 1829.1,474.29 1831.53,476.27 1833.96,478.22 1836.39,480.13 1838.82,482 1841.24,483.83 1843.67,485.62 1846.1,487.37 1848.53,489.08 1850.96,490.73 1853.38,492.34 1855.81,493.9 1858.24,495.41 1860.67,496.88 1863.1,498.29 1865.52,499.65 1867.95,500.97 1870.38,502.23 1872.81,503.45 1875.24,504.61 1877.66,505.73 1880.09,506.8 1882.52,507.82 1884.95,508.79 1887.38,509.72 1889.8,510.61 1892.23,511.45 1894.66,512.25 1897.09,513.01 1899.52,513.73 1901.94,514.41 1904.37,515.06 1906.8,515.66 1909.23,516.24 1911.66,516.78 1914.08,517.29 1916.51,517.76 1918.94,518.21 1921.37,518.63 1923.8,519.02 1926.22,519.39 1928.65,519.74 1931.08,520.06 1933.51,520.35 1935.94,520.63 1938.36,520.89 1940.79,521.13 1943.22,521.35 1945.65,521.56 1948.08,521.75 1950.5,521.93 1952.93,522.09 1955.36,522.24 1957.79,522.38 1960.22,522.51 1962.64,522.63 1965.07,522.73 1967.5,522.83 1969.93,522.92 1972.36,523.01 1974.78,523.08 1977.21,523.15 1979.64,523.21 1982.07,523.27 1984.5,523.32 1986.92,523.37 1989.35,523.41 1991.78,523.45 1994.21,523.49 1996.64,523.52" fill="none" stroke="#1d4580" stroke-width="2.4" stroke-linejoin="round" stroke-dasharray="13.4 13.6" stroke-dashoffset="8.60"/>
<rect x="1491.8" y="85.2" width="507.6" height="438.4" fill="none" stroke="#262626" stroke-width="1.5"/>
<line x1="1491.8" y1="523.6" x2="1497.8" y2="523.6" stroke="#262626" stroke-width="1.5"/>
<line x1="1491.8" y1="435.9" x2="1497.8" y2="435.9" stroke="#262626" stroke-width="1.5"/>
<line x1="1491.8" y1="348.2" x2="1497.8" y2="348.2" stroke="#262626" stroke-width="1.5"/>
<line x1="1491.8" y1="260.5" x2="1497.8" y2="260.5" stroke="#262626" stroke-width="1.5"/>
<line x1="1491.8" y1="172.8" x2="1497.8" y2="172.8" stroke="#262626" stroke-width="1.5"/>
<line x1="1491.8" y1="85.1" x2="1497.8" y2="85.1" stroke="#262626" stroke-width="1.5"/>
<text x="1453.7" y="536.2" font-size="29.3" text-anchor="middle" fill="#262626">0</text>
<text x="1477.5" y="447.7" font-size="29.3" text-anchor="end" fill="#262626">0.1</text>
<text x="1477.5" y="360" font-size="29.3" text-anchor="end" fill="#262626">0.2</text>
<text x="1477.5" y="272.3" font-size="29.3" text-anchor="end" fill="#262626">0.3</text>
<text x="1477.5" y="184.6" font-size="29.3" text-anchor="end" fill="#262626">0.4</text>
<text x="1477.5" y="96.9" font-size="29.3" text-anchor="end" fill="#262626">0.5</text>
<text x="1530.46" y="561.4" font-size="29" text-anchor="middle" fill="#262626">2</text>
<text x="1579.02" y="561.4" font-size="29" text-anchor="middle" fill="#262626">4</text>
<text x="1627.58" y="561.4" font-size="29" text-anchor="middle" fill="#262626">6</text>
<text x="1676.14" y="561.4" font-size="29" text-anchor="middle" fill="#262626">8</text>
<text x="1724.7" y="561.4" font-size="29" text-anchor="middle" fill="#262626">10</text>
<text x="1773.26" y="561.4" font-size="29" text-anchor="middle" fill="#262626">12</text>
<text x="1821.82" y="561.4" font-size="29" text-anchor="middle" fill="#262626">14</text>
<text x="1870.38" y="561.4" font-size="29" text-anchor="middle" fill="#262626">16</text>
<text x="1918.94" y="561.4" font-size="29" text-anchor="middle" fill="#262626">18</text>
<text x="1967.5" y="561.4" font-size="29" text-anchor="middle" fill="#262626">20</text>
<text x="1773.4" y="600" font-size="30" text-anchor="middle" fill="#262626">Photon counts</text>
<text x="1423.4" y="313.4" font-size="30.2" text-anchor="middle" fill="#262626" transform="rotate(-90 1423.4 313.4)">Normalized distribution</text>
<g shape-rendering="crispEdges">
<rect x="1646.45" y="128.13" width="29.9" height="194.67" fill="#4e79ae"/>
<rect x="1683.85" y="309.21" width="29.9" height="13.59" fill="#4e79ae"/>
<rect x="1646.45" y="226.61" width="29.9" height="96.19" fill="#bddbe5"/>
<rect x="1683.85" y="259.86" width="29.9" height="62.94" fill="#bddbe5"/>
<rect x="1721.25" y="292.27" width="29.9" height="30.53" fill="#bddbe5"/>
<rect x="1758.65" y="309.63" width="29.9" height="13.17" fill="#bddbe5"/>
<rect x="1796.05" y="317.57" width="29.9" height="5.23" fill="#bddbe5"/>
<rect x="1833.45" y="320.71" width="29.9" height="2.09" fill="#bddbe5"/>
</g>
<polyline points="1646,124 1688,303.5 1700,310 1724,319.5 1740,321.8 1887,322.3" fill="none" stroke="#3d63a3" stroke-width="2.4" stroke-linejoin="round" stroke-dasharray="13.2 14" stroke-dashoffset="21.97"/>
<polyline points="1646,241.3 1685,246.5 1699.6,258.9 1724.5,285.9 1745.2,300.4 1766,311.8 1795,318 1813.7,320.1 1850,321.6 1887,322.2" fill="none" stroke="#47a6dd" stroke-width="2.4" stroke-linejoin="round" stroke-dasharray="13.2 14" stroke-dashoffset="1.54"/>
<line x1="1645.6" y1="113.7" x2="1645.6" y2="322.8" stroke="#262626" stroke-width="1.5"/>
<line x1="1645.6" y1="322.8" x2="1888.4" y2="322.8" stroke="#262626" stroke-width="1.5"/>
<line x1="1645.6" y1="322.8" x2="1650.1" y2="322.8" stroke="#262626" stroke-width="1.5"/>
<line x1="1645.6" y1="301.89" x2="1650.1" y2="301.89" stroke="#262626" stroke-width="1.5"/>
<line x1="1645.6" y1="280.98" x2="1650.1" y2="280.98" stroke="#262626" stroke-width="1.5"/>
<line x1="1645.6" y1="260.07" x2="1650.1" y2="260.07" stroke="#262626" stroke-width="1.5"/>
<line x1="1645.6" y1="239.16" x2="1650.1" y2="239.16" stroke="#262626" stroke-width="1.5"/>
<line x1="1645.6" y1="218.25" x2="1650.1" y2="218.25" stroke="#262626" stroke-width="1.5"/>
<line x1="1645.6" y1="197.34" x2="1650.1" y2="197.34" stroke="#262626" stroke-width="1.5"/>
<line x1="1645.6" y1="176.43" x2="1650.1" y2="176.43" stroke="#262626" stroke-width="1.5"/>
<line x1="1645.6" y1="155.52" x2="1650.1" y2="155.52" stroke="#262626" stroke-width="1.5"/>
<line x1="1645.6" y1="134.61" x2="1650.1" y2="134.61" stroke="#262626" stroke-width="1.5"/>
<line x1="1645.6" y1="113.7" x2="1650.1" y2="113.7" stroke="#262626" stroke-width="1.5"/>
<text x="1620.7" y="330" font-size="25" text-anchor="middle" fill="#262626">0</text>
<text x="1641.8" y="289.88" font-size="25" text-anchor="end" fill="#262626">0.2</text>
<text x="1641.8" y="248.06" font-size="25" text-anchor="end" fill="#262626">0.4</text>
<text x="1641.8" y="206.24" font-size="25" text-anchor="end" fill="#262626">0.6</text>
<text x="1641.8" y="164.42" font-size="25" text-anchor="end" fill="#262626">0.8</text>
<text x="1624.5" y="122.6" font-size="25" text-anchor="middle" fill="#262626">1</text>
<line x1="1661.4" y1="322.8" x2="1661.4" y2="318.3" stroke="#262626" stroke-width="1.5"/>
<line x1="1698.8" y1="322.8" x2="1698.8" y2="318.3" stroke="#262626" stroke-width="1.5"/>
<line x1="1736.2" y1="322.8" x2="1736.2" y2="318.3" stroke="#262626" stroke-width="1.5"/>
<line x1="1773.6" y1="322.8" x2="1773.6" y2="318.3" stroke="#262626" stroke-width="1.5"/>
<line x1="1811" y1="322.8" x2="1811" y2="318.3" stroke="#262626" stroke-width="1.5"/>
<line x1="1848.4" y1="322.8" x2="1848.4" y2="318.3" stroke="#262626" stroke-width="1.5"/>
<line x1="1885.8" y1="322.8" x2="1885.8" y2="318.3" stroke="#262626" stroke-width="1.5"/>
<text x="1661.4" y="349.1" font-size="25" text-anchor="middle" fill="#262626">1</text>
<text x="1698.8" y="349.1" font-size="25" text-anchor="middle" fill="#262626">2</text>
<text x="1736.2" y="349.1" font-size="25" text-anchor="middle" fill="#262626">3</text>
<text x="1773.6" y="349.1" font-size="25" text-anchor="middle" fill="#262626">4</text>
<text x="1811" y="349.1" font-size="25" text-anchor="middle" fill="#262626">5</text>
<text x="1848.4" y="349.1" font-size="25" text-anchor="middle" fill="#262626">6</text>
<rect x="1779.1" y="98" width="32.8" height="9.4" fill="#4e79ae"/>
<text x="1902" y="111.3" font-size="24" text-anchor="middle" fill="#000">0.005 s</text>
<rect x="1779.1" y="124.7" width="32.8" height="9.4" fill="#bddbe5"/>
<text x="1902" y="137.98" font-size="24" text-anchor="middle" fill="#000">0.05 s</text>
<rect x="1779.1" y="151.4" width="32.8" height="9.4" fill="#a8162f"/>
<text x="1902" y="164.66" font-size="24" text-anchor="middle" fill="#000">0.1 s</text>
<rect x="1779.1" y="178.1" width="32.8" height="9.4" fill="#ee8b3e"/>
<text x="1902" y="191.34" font-size="24" text-anchor="middle" fill="#000">0.2 s</text>
<rect x="1779.1" y="204.8" width="32.8" height="9.4" fill="#1d4580"/>
<text x="1902" y="218.02" font-size="24" text-anchor="middle" fill="#000">0.5 s</text>
<line x1="1763.4" y1="236.2" x2="1825" y2="236.2" stroke="#2b568f" stroke-width="2.2" stroke-dasharray="9.4 4.4"/>
<line x1="1767.5" y1="263" x2="1823" y2="263" stroke="#2b568f" stroke-width="2.2"/>
<text x="1902.6" y="245.3" font-size="24" text-anchor="middle" fill="#000">Poisson</text>
<text x="1908" y="269.6" font-size="24" text-anchor="middle" fill="#000">Super-Poisson</text>
<polyline points="111.1,838.76 114.71,850.87 118.32,862.35 121.92,873.23 125.53,883.55 129.14,893.34 132.75,902.62 136.35,911.42 139.96,919.76 143.57,927.67 147.18,935.17 150.79,942.28 154.39,949.03 158,955.42 161.61,961.49 165.22,967.23 168.83,972.69 172.43,977.86 176.04,982.76 179.65,987.4 183.26,991.81 186.87,995.99 190.47,999.95 194.08,1003.71 197.69,1007.27 201.3,1010.65 204.9,1013.85 208.51,1016.89 212.12,1019.77 215.73,1022.5 219.34,1025.09 222.94,1027.54 226.55,1029.87 230.16,1032.07 233.77,1034.17 237.38,1036.15 240.98,1038.03 244.59,1039.82 248.2,1041.51 251.81,1043.11 255.41,1044.63 259.02,1046.08 262.63,1047.44 266.24,1048.74 269.85,1049.97 273.45,1051.13 277.06,1052.24 280.67,1053.29 284.28,1054.28 287.88,1055.22 291.49,1056.12 295.1,1056.96 298.71,1057.77 302.32,1058.53 305.92,1059.25 309.53,1059.94 313.14,1060.59 316.75,1061.2 320.36,1061.79 323.96,1062.34 327.57,1062.86 331.18,1063.36 334.79,1063.83 338.39,1064.28 342,1064.71 345.61,1065.11 349.22,1065.49 352.83,1065.85 356.43,1066.19 360.04,1066.52 363.65,1066.83 367.26,1067.12 370.87,1067.4 374.47,1067.66 378.08,1067.91 381.69,1068.15 385.3,1068.37 388.9,1068.58 392.51,1068.78 396.12,1068.97 399.73,1069.16 403.34,1069.33 406.94,1069.49 410.55,1069.65 414.16,1069.79 417.77,1069.93 421.38,1070.06 424.98,1070.19 428.59,1070.31 432.2,1070.42 435.81,1070.52 439.41,1070.62 443.02,1070.72 446.63,1070.81 450.24,1070.9 453.85,1070.98 457.45,1071.06 461.06,1071.13 464.67,1071.2 468.28,1071.27 471.89,1071.33 475.49,1071.39 479.1,1071.44 482.71,1071.5 486.32,1071.55 489.92,1071.59 493.53,1071.64 497.14,1071.68 500.75,1071.72 504.36,1071.76 507.96,1071.8 511.57,1071.83 515.18,1071.87 518.79,1071.9 522.4,1071.93 526,1071.96 529.61,1071.98 533.22,1072.01 536.83,1072.03 540.44,1072.06 544.04,1072.08 547.65,1072.1 551.26,1072.12 554.87,1072.14 558.47,1072.15 562.08,1072.17 565.69,1072.18 569.3,1072.2 572.91,1072.21 576.51,1072.23 580.12,1072.24 583.73,1072.25 587.34,1072.26" fill="none" stroke="#ee8b3e" stroke-width="2.4" stroke-linejoin="round"/>
<circle cx="111.1" cy="752.2" r="6" fill="#1d4580"/>
<circle cx="125.53" cy="980.43" r="6" fill="#1d4580"/>
<circle cx="139.96" cy="974.95" r="6" fill="#1d4580"/>
<circle cx="154.39" cy="929.07" r="6" fill="#1d4580"/>
<circle cx="168.83" cy="976.25" r="6" fill="#1d4580"/>
<circle cx="183.26" cy="963.12" r="6" fill="#1d4580"/>
<circle cx="197.69" cy="1007.98" r="6" fill="#1d4580"/>
<circle cx="212.12" cy="987.07" r="6" fill="#1d4580"/>
<circle cx="226.55" cy="1047.23" r="6" fill="#1d4580"/>
<circle cx="240.98" cy="1009.86" r="6" fill="#1d4580"/>
<circle cx="255.41" cy="1008.42" r="6" fill="#1d4580"/>
<circle cx="269.85" cy="1077.67" r="6" fill="#1d4580"/>
<circle cx="284.28" cy="1029.19" r="6" fill="#1d4580"/>
<circle cx="298.71" cy="1071.61" r="6" fill="#1d4580"/>
<circle cx="313.14" cy="1012.75" r="6" fill="#1d4580"/>
<circle cx="327.57" cy="1061.22" r="6" fill="#1d4580"/>
<circle cx="342" cy="1105.94" r="6" fill="#1d4580"/>
<circle cx="356.43" cy="1051.99" r="6" fill="#1d4580"/>
<circle cx="370.87" cy="1102.77" r="6" fill="#1d4580"/>
<circle cx="385.3" cy="1067.86" r="6" fill="#1d4580"/>
<circle cx="399.73" cy="1090.65" r="6" fill="#1d4580"/>
<circle cx="414.16" cy="1102.19" r="6" fill="#1d4580"/>
<circle cx="428.59" cy="1091.52" r="6" fill="#1d4580"/>
<circle cx="443.02" cy="1096.13" r="6" fill="#1d4580"/>
<circle cx="457.45" cy="1094.69" r="6" fill="#1d4580"/>
<circle cx="471.89" cy="1092.96" r="6" fill="#1d4580"/>
<circle cx="486.32" cy="1064.97" r="6" fill="#1d4580"/>
<circle cx="500.75" cy="1080.84" r="6" fill="#1d4580"/>
<circle cx="515.18" cy="1077.67" r="6" fill="#1d4580"/>
<circle cx="529.61" cy="1042.46" r="6" fill="#1d4580"/>
<circle cx="544.04" cy="1064.97" r="6" fill="#1d4580"/>
<circle cx="558.47" cy="1041.02" r="6" fill="#1d4580"/>
<circle cx="572.91" cy="1048.52" r="6" fill="#1d4580"/>
<circle cx="587.34" cy="1042.46" r="6" fill="#1d4580"/>
<rect x="111.1" y="752.2" width="505.1" height="432.8" fill="none" stroke="#262626" stroke-width="1.6"/>
<line x1="111.1" y1="1185" x2="115.6" y2="1185" stroke="#262626" stroke-width="1.5"/>
<line x1="111.1" y1="1040.73" x2="115.6" y2="1040.73" stroke="#262626" stroke-width="1.5"/>
<line x1="111.1" y1="896.47" x2="115.6" y2="896.47" stroke="#262626" stroke-width="1.5"/>
<line x1="111.1" y1="752.2" x2="115.6" y2="752.2" stroke="#262626" stroke-width="1.5"/>
<line x1="255.41" y1="1185" x2="255.41" y2="1180.5" stroke="#262626" stroke-width="1.5"/>
<line x1="399.73" y1="1185" x2="399.73" y2="1180.5" stroke="#262626" stroke-width="1.5"/>
<line x1="544.04" y1="1185" x2="544.04" y2="1180.5" stroke="#262626" stroke-width="1.5"/>
<text x="83.2" y="761.8" font-size="29.5" text-anchor="middle" fill="#262626">1</text>
<text x="83.2" y="906.07" font-size="29.5" text-anchor="middle" fill="#262626">0.5</text>
<text x="83.2" y="1050.33" font-size="29.5" text-anchor="middle" fill="#262626">0</text>
<text x="83.2" y="1194.6" font-size="29.5" text-anchor="middle" fill="#262626">-0.5</text>
<text x="111.1" y="1221.8" font-size="29.5" text-anchor="middle" fill="#262626">0</text>
<text x="255.41" y="1221.8" font-size="29.5" text-anchor="middle" fill="#262626">10</text>
<text x="399.73" y="1221.8" font-size="29.5" text-anchor="middle" fill="#262626">20</text>
<text x="544.04" y="1221.8" font-size="29.5" text-anchor="middle" fill="#262626">30</text>
<text x="344.8" y="1264.4" font-size="29.5" text-anchor="middle" fill="#262626">Turnover index <tspan font-style="italic">m</tspan></text>
<g transform="translate(37.3 988.6) rotate(-90)" fill="#000"><text x="0" y="0" font-size="30" fill="#000">C</text><text transform="translate(14.6 16.4) scale(1.45 1)" font-style="italic" font-size="31" fill="#000">τ</text><text x="27" y="23" font-size="20" fill="#000">off</text></g>
<polyline points="788.35,1159.61 791.98,1157.34 795.62,1155.24 799.26,1153.3 802.9,1151.5 806.54,1149.82 810.18,1148.26 813.82,1146.8 817.46,1145.43 821.1,1144.14 824.74,1142.93 828.38,1141.79 832.02,1140.71 835.66,1139.69 839.3,1138.73 842.93,1137.81 846.57,1136.94 850.21,1136.11 853.85,1135.33 857.49,1134.58 861.13,1133.86 864.77,1133.18 868.41,1132.52 872.05,1131.9 875.69,1131.3 879.33,1130.72 882.97,1130.17 886.61,1129.64 890.25,1129.13 893.88,1128.64 897.52,1128.16 901.16,1127.71 904.8,1127.27 908.44,1126.85 912.08,1126.44 915.72,1126.04 919.36,1125.66 923,1125.29 926.64,1124.93 930.28,1124.59 933.92,1124.25 937.56,1123.93 941.19,1123.61 944.83,1123.31 948.47,1123.01 952.11,1122.72 955.75,1122.45 959.39,1122.17 963.03,1121.91 966.67,1121.65 970.31,1121.4 973.95,1121.16 977.59,1120.92 981.23,1120.69 984.87,1120.47 988.51,1120.25 992.14,1120.04 995.78,1119.83 999.42,1119.62 1003.06,1119.43 1006.7,1119.23 1010.34,1119.04 1013.98,1118.86 1017.62,1118.68 1021.26,1118.5 1024.9,1118.33 1028.54,1118.16 1032.18,1118 1035.82,1117.84 1039.46,1117.68 1043.09,1117.52 1046.73,1117.37 1050.37,1117.23 1054.01,1117.08 1057.65,1116.94 1061.29,1116.8 1064.93,1116.66 1068.57,1116.53 1072.21,1116.4 1075.85,1116.27 1079.49,1116.15 1083.13,1116.02 1086.77,1115.9 1090.41,1115.78 1094.04,1115.67 1097.68,1115.55 1101.32,1115.44 1104.96,1115.33 1108.6,1115.22 1112.24,1115.11 1115.88,1115.01 1119.52,1114.91 1123.16,1114.81 1126.8,1114.71 1130.44,1114.61 1134.08,1114.51 1137.72,1114.42 1141.35,1114.33 1144.99,1114.24 1148.63,1114.15 1152.27,1114.06 1155.91,1113.97 1159.55,1113.88 1163.19,1113.8 1166.83,1113.72 1170.47,1113.64 1174.11,1113.56 1177.75,1113.48 1181.39,1113.4 1185.03,1113.32 1188.67,1113.25 1192.3,1113.17 1195.94,1113.1 1199.58,1113.03 1203.22,1112.96 1206.86,1112.89" fill="none" stroke="#1d4580" stroke-width="2.4" stroke-linejoin="round"/>
<polyline points="788.35,1116.06 791.98,1108.97 795.62,1102.45 799.26,1096.44 802.9,1090.87 806.54,1085.71 810.18,1080.9 813.82,1076.41 817.46,1072.22 821.1,1068.29 824.74,1064.6 828.38,1061.12 832.02,1057.85 835.66,1054.76 839.3,1051.83 842.93,1049.06 846.57,1046.44 850.21,1043.94 853.85,1041.57 857.49,1039.31 861.13,1037.16 864.77,1035.1 868.41,1033.14 872.05,1031.26 875.69,1029.46 879.33,1027.74 882.97,1026.08 886.61,1024.5 890.25,1022.97 893.88,1021.51 897.52,1020.1 901.16,1018.74 904.8,1017.44 908.44,1016.17 912.08,1014.96 915.72,1013.78 919.36,1012.65 923,1011.55 926.64,1010.49 930.28,1009.47 933.92,1008.47 937.56,1007.51 941.19,1006.58 944.83,1005.67 948.47,1004.79 952.11,1003.94 955.75,1003.12 959.39,1002.31 963.03,1001.53 966.67,1000.77 970.31,1000.04 973.95,999.32 977.59,998.62 981.23,997.94 984.87,997.28 988.51,996.63 992.14,996 995.78,995.39 999.42,994.79 1003.06,994.21 1006.7,993.64 1010.34,993.08 1013.98,992.54 1017.62,992.01 1021.26,991.49 1024.9,990.98 1028.54,990.49 1032.18,990 1035.82,989.53 1039.46,989.07 1043.09,988.61 1046.73,988.17 1050.37,987.74 1054.01,987.31 1057.65,986.9 1061.29,986.49 1064.93,986.09 1068.57,985.7 1072.21,985.31 1075.85,984.94 1079.49,984.57 1083.13,984.21 1086.77,983.85 1090.41,983.51 1094.04,983.16 1097.68,982.83 1101.32,982.5 1104.96,982.18 1108.6,981.86 1112.24,981.55 1115.88,981.24 1119.52,980.94 1123.16,980.65 1126.8,980.36 1130.44,980.07 1134.08,979.79 1137.72,979.51 1141.35,979.24 1144.99,978.98 1148.63,978.71 1152.27,978.46 1155.91,978.2 1159.55,977.95 1163.19,977.71 1166.83,977.46 1170.47,977.23 1174.11,976.99 1177.75,976.76 1181.39,976.53 1185.03,976.31 1188.67,976.09 1192.3,975.87 1195.94,975.66 1199.58,975.45 1203.22,975.24 1206.86,975.03" fill="none" stroke="#ee8b3e" stroke-width="2.4" stroke-linejoin="round"/>
<polyline points="788.35,1064.62 791.98,1051.8 795.62,1040.02 799.26,1029.14 802.9,1019.08 806.54,1009.74 810.18,1001.05 813.82,992.94 817.46,985.35 821.1,978.25 824.74,971.57 828.38,965.29 832.02,959.37 835.66,953.78 839.3,948.49 842.93,943.48 846.57,938.73 850.21,934.22 853.85,929.93 857.49,925.85 861.13,921.95 864.77,918.24 868.41,914.68 872.05,911.29 875.69,908.04 879.33,904.92 882.97,901.93 886.61,899.06 890.25,896.31 893.88,893.66 897.52,891.11 901.16,888.66 904.8,886.29 908.44,884.01 912.08,881.81 915.72,879.69 919.36,877.64 923,875.66 926.64,873.74 930.28,871.88 933.92,870.08 937.56,868.34 941.19,866.66 944.83,865.02 948.47,863.44 952.11,861.9 955.75,860.4 959.39,858.95 963.03,857.54 966.67,856.16 970.31,854.83 973.95,853.53 977.59,852.27 981.23,851.04 984.87,849.84 988.51,848.67 992.14,847.54 995.78,846.43 999.42,845.34 1003.06,844.29 1006.7,843.26 1010.34,842.25 1013.98,841.27 1017.62,840.31 1021.26,839.38 1024.9,838.46 1028.54,837.57 1032.18,836.69 1035.82,835.84 1039.46,835 1043.09,834.18 1046.73,833.38 1050.37,832.59 1054.01,831.83 1057.65,831.07 1061.29,830.34 1064.93,829.61 1068.57,828.91 1072.21,828.21 1075.85,827.53 1079.49,826.87 1083.13,826.21 1086.77,825.57 1090.41,824.94 1094.04,824.32 1097.68,823.72 1101.32,823.12 1104.96,822.54 1108.6,821.96 1112.24,821.4 1115.88,820.85 1119.52,820.3 1123.16,819.77 1126.8,819.25 1130.44,818.73 1134.08,818.22 1137.72,817.72 1141.35,817.23 1144.99,816.75 1148.63,816.28 1152.27,815.81 1155.91,815.35 1159.55,814.9 1163.19,814.46 1166.83,814.02 1170.47,813.59 1174.11,813.16 1177.75,812.75 1181.39,812.33 1185.03,811.93 1188.67,811.53 1192.3,811.14 1195.94,810.75 1199.58,810.37 1203.22,809.99 1206.86,809.62" fill="none" stroke="#a8162f" stroke-width="2.4" stroke-linejoin="round"/>
<circle cx="787.71" cy="1158.75" r="7.25" fill="#1d4580"/>
<circle cx="832.02" cy="1140.95" r="7.25" fill="#1d4580"/>
<circle cx="875.69" cy="1135.22" r="7.25" fill="#1d4580"/>
<circle cx="986.69" cy="1122.3" r="7.25" fill="#1d4580"/>
<circle cx="1208.68" cy="1109.53" r="7.25" fill="#1d4580"/>
<circle cx="787.71" cy="1120.29" r="7.25" fill="#ee8b3e"/>
<circle cx="832.02" cy="1060.6" r="7.25" fill="#ee8b3e"/>
<circle cx="875.69" cy="1017.11" r="7.25" fill="#ee8b3e"/>
<circle cx="986.69" cy="985.69" r="7.25" fill="#ee8b3e"/>
<circle cx="1208.68" cy="985.69" r="7.25" fill="#ee8b3e"/>
<circle cx="787.71" cy="1079.82" r="7.25" fill="#a8162f"/>
<circle cx="832.02" cy="960.58" r="7.25" fill="#a8162f"/>
<circle cx="875.69" cy="884.81" r="7.25" fill="#a8162f"/>
<circle cx="986.69" cy="853.38" r="7.25" fill="#a8162f"/>
<circle cx="1208.68" cy="813.78" r="7.25" fill="#a8162f"/>
<rect x="765.6" y="749.2" width="500.4" height="430.5" fill="none" stroke="#262626" stroke-width="1.6"/>
<line x1="765.6" y1="1036.2" x2="770.6" y2="1036.2" stroke="#262626" stroke-width="1.5"/>
<line x1="765.6" y1="892.7" x2="770.6" y2="892.7" stroke="#262626" stroke-width="1.5"/>
<line x1="856.58" y1="1179.7" x2="856.58" y2="1174.7" stroke="#262626" stroke-width="1.5"/>
<line x1="947.56" y1="1179.7" x2="947.56" y2="1174.7" stroke="#262626" stroke-width="1.5"/>
<line x1="1038.55" y1="1179.7" x2="1038.55" y2="1174.7" stroke="#262626" stroke-width="1.5"/>
<line x1="1129.53" y1="1179.7" x2="1129.53" y2="1174.7" stroke="#262626" stroke-width="1.5"/>
<line x1="1220.51" y1="1179.7" x2="1220.51" y2="1174.7" stroke="#262626" stroke-width="1.5"/>
<text x="740" y="1192.7" font-size="29.5" text-anchor="middle" fill="#262626">0</text>
<text x="740" y="1046.6" font-size="29.5" text-anchor="middle" fill="#262626">1</text>
<text x="740" y="903.1" font-size="29.5" text-anchor="middle" fill="#262626">2</text>
<text x="740" y="759.6" font-size="29.5" text-anchor="middle" fill="#262626">3</text>
<text x="765.6" y="1224.2" font-size="29.5" text-anchor="middle" fill="#262626">0</text>
<text x="856.58" y="1224.2" font-size="29.5" text-anchor="middle" fill="#262626">0.1</text>
<text x="947.56" y="1224.2" font-size="29.5" text-anchor="middle" fill="#262626">0.2</text>
<text x="1038.55" y="1224.2" font-size="29.5" text-anchor="middle" fill="#262626">0.3</text>
<text x="1129.53" y="1224.2" font-size="29.5" text-anchor="middle" fill="#262626">0.4</text>
<text x="1220.51" y="1224.2" font-size="29.5" text-anchor="middle" fill="#262626">0.5</text>
<text x="1006" y="1266.5" font-size="29.5" text-anchor="middle" fill="#262626">[Luminol] (mM)</text>
<text transform="translate(716.8 953.3) rotate(-90)" font-size="29.5" text-anchor="middle" fill="#262626">TOF<tspan dx="19">(10</tspan><tspan font-size="18" dy="-11">5</tspan><tspan dy="11"> s</tspan><tspan font-size="18" dy="-11">-1</tspan><tspan dy="11">)</tspan></text>
<line x1="780.8" y1="778.9" x2="800.8" y2="778.9" stroke="#1d4580" stroke-width="2.2"/>
<circle cx="790.8" cy="778.9" r="7.25" fill="#1d4580"/>
<text x="817" y="787.9" font-size="24.8" text-anchor="start" fill="#000" letter-spacing="-0.35">0.15 mM</text>
<line x1="780.8" y1="806.9" x2="800.8" y2="806.9" stroke="#ee8b3e" stroke-width="2.2"/>
<circle cx="790.8" cy="806.9" r="7.25" fill="#ee8b3e"/>
<text x="817" y="815.9" font-size="24.8" text-anchor="start" fill="#000" letter-spacing="-0.35">0.75 mM</text>
<line x1="780.8" y1="834.9" x2="800.8" y2="834.9" stroke="#a8162f" stroke-width="2.2"/>
<circle cx="790.8" cy="834.9" r="7.25" fill="#a8162f"/>
<text x="817" y="843.9" font-size="24.8" text-anchor="start" fill="#000" letter-spacing="-0.35">2.25 mM</text>
<line x1="1653.8" y1="741.2" x2="1653.8" y2="1175" stroke="#000" stroke-width="1.5" stroke-dasharray="6 4"/>
<line x1="1530.4" y1="1131.3" x2="1970.3" y2="790.5" stroke="#1d4580" stroke-width="2.4"/>
<line x1="1530.4" y1="1132.6" x2="1969.3" y2="1011.2" stroke="#ee8b3e" stroke-width="2.4"/>
<line x1="1530.4" y1="1133.5" x2="1969.3" y2="1058.5" stroke="#a8162f" stroke-width="2.4"/>
<circle cx="1669.63" cy="1028.65" r="7.2" fill="#1d4580"/>
<circle cx="1685.45" cy="1007.45" r="7.2" fill="#1d4580"/>
<circle cx="1717.1" cy="970.81" r="7.2" fill="#1d4580"/>
<circle cx="1759.56" cy="950.09" r="7.2" fill="#1d4580"/>
<circle cx="1970.32" cy="802.6" r="7.2" fill="#1d4580"/>
<circle cx="1669.63" cy="1091.31" r="7.2" fill="#ee8b3e"/>
<circle cx="1685.45" cy="1091.31" r="7.2" fill="#ee8b3e"/>
<circle cx="1717.1" cy="1084.08" r="7.2" fill="#ee8b3e"/>
<circle cx="1759.56" cy="1068.9" r="7.2" fill="#ee8b3e"/>
<circle cx="1970.32" cy="1011.3" r="7.2" fill="#ee8b3e"/>
<circle cx="1669.63" cy="1107.7" r="7.2" fill="#a8162f"/>
<circle cx="1685.45" cy="1105.77" r="7.2" fill="#a8162f"/>
<circle cx="1717.1" cy="1103.61" r="7.2" fill="#a8162f"/>
<circle cx="1759.56" cy="1095.17" r="7.2" fill="#a8162f"/>
<circle cx="1970.32" cy="1058.54" r="7.2" fill="#a8162f"/>
<rect x="1500" y="741.2" width="500.3" height="433.8" fill="none" stroke="#000" stroke-width="1.8"/>
<rect x="1498.2" y="1173.2" width="8.6" height="3.6" fill="#000"/>
<rect x="1992" y="1173.2" width="8.6" height="3.6" fill="#000"/>
<line x1="1500" y1="1126.5" x2="1505" y2="1126.5" stroke="#262626" stroke-width="1.5"/>
<line x1="1500" y1="1030.1" x2="1505" y2="1030.1" stroke="#262626" stroke-width="1.5"/>
<line x1="1500" y1="933.7" x2="1505" y2="933.7" stroke="#262626" stroke-width="1.5"/>
<line x1="1500" y1="837.3" x2="1505" y2="837.3" stroke="#262626" stroke-width="1.5"/>
<line x1="1576.6" y1="1175" x2="1576.6" y2="1170" stroke="#262626" stroke-width="1.5"/>
<line x1="1653.8" y1="1175" x2="1653.8" y2="1170" stroke="#262626" stroke-width="1.5"/>
<line x1="1731" y1="1175" x2="1731" y2="1170" stroke="#262626" stroke-width="1.5"/>
<line x1="1808.2" y1="1175" x2="1808.2" y2="1170" stroke="#262626" stroke-width="1.5"/>
<line x1="1885.4" y1="1175" x2="1885.4" y2="1170" stroke="#262626" stroke-width="1.5"/>
<line x1="1962.6" y1="1175" x2="1962.6" y2="1170" stroke="#262626" stroke-width="1.5"/>
<text x="1470.5" y="1136.9" font-size="29.5" text-anchor="middle" fill="#262626">0</text>
<text x="1470.5" y="1040.5" font-size="29.5" text-anchor="middle" fill="#262626">2</text>
<text x="1470.5" y="944.1" font-size="29.5" text-anchor="middle" fill="#262626">4</text>
<text x="1470.5" y="847.7" font-size="29.5" text-anchor="middle" fill="#262626">6</text>
<text x="1470.5" y="751.3" font-size="29.5" text-anchor="middle" fill="#262626">8</text>
<text x="1499.4" y="1216" font-size="29.5" text-anchor="middle" fill="#262626">-20</text>
<text x="1576.6" y="1216" font-size="29.5" text-anchor="middle" fill="#262626">-10</text>
<text x="1653.8" y="1216" font-size="29.5" text-anchor="middle" fill="#262626">0</text>
<text x="1731" y="1216" font-size="29.5" text-anchor="middle" fill="#262626">10</text>
<text x="1808.2" y="1216" font-size="29.5" text-anchor="middle" fill="#262626">20</text>
<text x="1885.4" y="1216" font-size="29.5" text-anchor="middle" fill="#262626">30</text>
<text x="1962.6" y="1216" font-size="29.5" text-anchor="middle" fill="#262626">40</text>
<text x="1749" y="1256" font-size="29.5" text-anchor="middle" fill="#262626">[Luminol]<tspan font-size="18" dy="-11">-1</tspan><tspan dy="11">&#160;&#160; (mM</tspan><tspan font-size="18" dy="-11">-1</tspan><tspan dy="11">)</tspan></text>
<text transform="translate(1436.5 937) rotate(-90)" font-size="29.5" text-anchor="middle" fill="#262626">TOF<tspan font-size="18" dy="-11">-1</tspan><tspan dy="11" dx="10.5">(10</tspan><tspan font-size="18" dy="-11">-5</tspan><tspan dy="11"> s)</tspan></text>
<line x1="1682.2" y1="773.2" x2="1702.7" y2="773.2" stroke="#1d4580" stroke-width="2.4"/>
<circle cx="1692.4" cy="773.2" r="7.4" fill="#1d4580"/>
<text x="1718.7" y="782.2" font-size="24.8" text-anchor="start" fill="#000" letter-spacing="-0.35">0.15 mM</text>
<line x1="1682.2" y1="800.75" x2="1702.7" y2="800.75" stroke="#ee8b3e" stroke-width="2.4"/>
<circle cx="1692.4" cy="800.75" r="7.4" fill="#ee8b3e"/>
<text x="1718.7" y="809.75" font-size="24.8" text-anchor="start" fill="#000" letter-spacing="-0.35">0.75 mM</text>
<line x1="1682.2" y1="828.3" x2="1702.7" y2="828.3" stroke="#a8162f" stroke-width="2.4"/>
<circle cx="1692.4" cy="828.3" r="7.4" fill="#a8162f"/>
<text x="1718.7" y="837.3" font-size="24.8" text-anchor="start" fill="#000" letter-spacing="-0.35">2.25 mM</text>
</svg>
</body></html>
